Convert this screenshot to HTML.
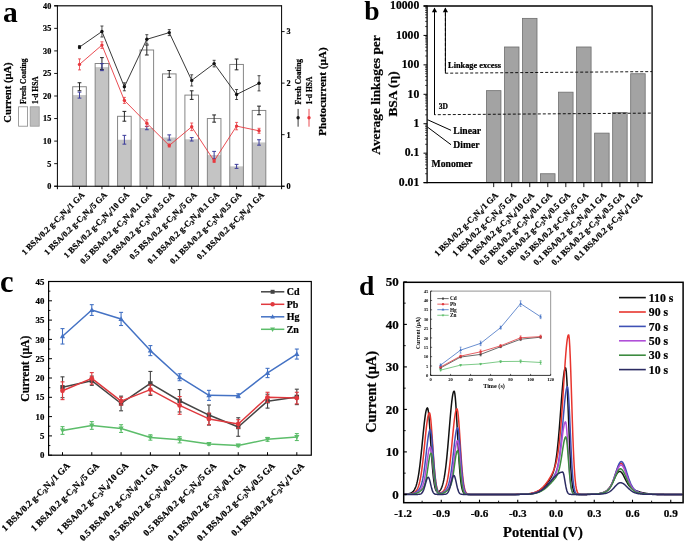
<!DOCTYPE html>
<html><head><meta charset="utf-8"><style>html,body{margin:0;padding:0;background:#fff;}svg{display:block;will-change:transform;} text{stroke:#000;stroke-width:0.22px;}</style></head>
<body><svg width="685" height="541" viewBox="0 0 685 541">
<rect width="685" height="541" fill="#fff"/>
<rect x="72.70" y="86.75" width="13.60" height="99.45" fill="#fff" stroke="none" stroke-width="0"/>
<rect x="72.70" y="95.10" width="13.60" height="91.10" fill="#c4c4c4" stroke="none" stroke-width="0"/>
<rect x="72.70" y="86.75" width="13.60" height="99.45" fill="none" stroke="#808080" stroke-width="0.95"/>
<rect x="95.14" y="63.53" width="13.60" height="122.67" fill="#fff" stroke="none" stroke-width="0"/>
<rect x="95.14" y="67.14" width="13.60" height="119.06" fill="#c4c4c4" stroke="none" stroke-width="0"/>
<rect x="95.14" y="63.53" width="13.60" height="122.67" fill="none" stroke="#808080" stroke-width="0.95"/>
<rect x="117.58" y="116.29" width="13.60" height="69.91" fill="#fff" stroke="none" stroke-width="0"/>
<rect x="117.58" y="139.75" width="13.60" height="46.45" fill="#c4c4c4" stroke="none" stroke-width="0"/>
<rect x="117.58" y="116.29" width="13.60" height="69.91" fill="none" stroke="#808080" stroke-width="0.95"/>
<rect x="140.02" y="50.00" width="13.60" height="136.20" fill="#fff" stroke="none" stroke-width="0"/>
<rect x="140.02" y="128.02" width="13.60" height="58.18" fill="#c4c4c4" stroke="none" stroke-width="0"/>
<rect x="140.02" y="50.00" width="13.60" height="136.20" fill="none" stroke="#808080" stroke-width="0.95"/>
<rect x="162.46" y="73.90" width="13.60" height="112.30" fill="#fff" stroke="none" stroke-width="0"/>
<rect x="162.46" y="137.49" width="13.60" height="48.71" fill="#c4c4c4" stroke="none" stroke-width="0"/>
<rect x="162.46" y="73.90" width="13.60" height="112.30" fill="none" stroke="#808080" stroke-width="0.95"/>
<rect x="184.90" y="95.10" width="13.60" height="91.10" fill="#fff" stroke="none" stroke-width="0"/>
<rect x="184.90" y="139.30" width="13.60" height="46.90" fill="#c4c4c4" stroke="none" stroke-width="0"/>
<rect x="184.90" y="95.10" width="13.60" height="91.10" fill="none" stroke="#808080" stroke-width="0.95"/>
<rect x="207.34" y="118.55" width="13.60" height="67.65" fill="#fff" stroke="none" stroke-width="0"/>
<rect x="207.34" y="155.08" width="13.60" height="31.12" fill="#c4c4c4" stroke="none" stroke-width="0"/>
<rect x="207.34" y="118.55" width="13.60" height="67.65" fill="none" stroke="#808080" stroke-width="0.95"/>
<rect x="229.78" y="64.43" width="13.60" height="121.77" fill="#fff" stroke="none" stroke-width="0"/>
<rect x="229.78" y="166.36" width="13.60" height="19.84" fill="#c4c4c4" stroke="none" stroke-width="0"/>
<rect x="229.78" y="64.43" width="13.60" height="121.77" fill="none" stroke="#808080" stroke-width="0.95"/>
<rect x="252.22" y="110.43" width="13.60" height="75.77" fill="#fff" stroke="none" stroke-width="0"/>
<rect x="252.22" y="142.45" width="13.60" height="43.75" fill="#c4c4c4" stroke="none" stroke-width="0"/>
<rect x="252.22" y="110.43" width="13.60" height="75.77" fill="none" stroke="#808080" stroke-width="0.95"/>
<line x1="79.50" y1="82.75" x2="79.50" y2="90.75" stroke="#222" stroke-width="1.0" />
<line x1="77.60" y1="82.75" x2="81.40" y2="82.75" stroke="#222" stroke-width="1.0" />
<line x1="77.60" y1="90.75" x2="81.40" y2="90.75" stroke="#222" stroke-width="1.0" />
<line x1="79.50" y1="92.10" x2="79.50" y2="98.10" stroke="#3a3a9a" stroke-width="1.0" />
<line x1="77.60" y1="92.10" x2="81.40" y2="92.10" stroke="#3a3a9a" stroke-width="1.0" />
<line x1="77.60" y1="98.10" x2="81.40" y2="98.10" stroke="#3a3a9a" stroke-width="1.0" />
<line x1="101.94" y1="57.63" x2="101.94" y2="69.43" stroke="#222" stroke-width="1.0" />
<line x1="100.04" y1="57.63" x2="103.84" y2="57.63" stroke="#222" stroke-width="1.0" />
<line x1="100.04" y1="69.43" x2="103.84" y2="69.43" stroke="#222" stroke-width="1.0" />
<line x1="101.94" y1="63.64" x2="101.94" y2="70.64" stroke="#3a3a9a" stroke-width="1.0" />
<line x1="100.04" y1="63.64" x2="103.84" y2="63.64" stroke="#3a3a9a" stroke-width="1.0" />
<line x1="100.04" y1="70.64" x2="103.84" y2="70.64" stroke="#3a3a9a" stroke-width="1.0" />
<line x1="124.38" y1="111.39" x2="124.38" y2="121.19" stroke="#222" stroke-width="1.0" />
<line x1="122.48" y1="111.39" x2="126.28" y2="111.39" stroke="#222" stroke-width="1.0" />
<line x1="122.48" y1="121.19" x2="126.28" y2="121.19" stroke="#222" stroke-width="1.0" />
<line x1="124.38" y1="135.35" x2="124.38" y2="144.15" stroke="#3a3a9a" stroke-width="1.0" />
<line x1="122.48" y1="135.35" x2="126.28" y2="135.35" stroke="#3a3a9a" stroke-width="1.0" />
<line x1="122.48" y1="144.15" x2="126.28" y2="144.15" stroke="#3a3a9a" stroke-width="1.0" />
<line x1="146.82" y1="45.00" x2="146.82" y2="55.00" stroke="#222" stroke-width="1.0" />
<line x1="144.92" y1="45.00" x2="148.72" y2="45.00" stroke="#222" stroke-width="1.0" />
<line x1="144.92" y1="55.00" x2="148.72" y2="55.00" stroke="#222" stroke-width="1.0" />
<line x1="146.82" y1="126.32" x2="146.82" y2="129.72" stroke="#3a3a9a" stroke-width="1.0" />
<line x1="144.92" y1="126.32" x2="148.72" y2="126.32" stroke="#3a3a9a" stroke-width="1.0" />
<line x1="144.92" y1="129.72" x2="148.72" y2="129.72" stroke="#3a3a9a" stroke-width="1.0" />
<line x1="169.26" y1="70.50" x2="169.26" y2="77.30" stroke="#222" stroke-width="1.0" />
<line x1="167.36" y1="70.50" x2="171.16" y2="70.50" stroke="#222" stroke-width="1.0" />
<line x1="167.36" y1="77.30" x2="171.16" y2="77.30" stroke="#222" stroke-width="1.0" />
<line x1="169.26" y1="134.89" x2="169.26" y2="140.09" stroke="#3a3a9a" stroke-width="1.0" />
<line x1="167.36" y1="134.89" x2="171.16" y2="134.89" stroke="#3a3a9a" stroke-width="1.0" />
<line x1="167.36" y1="140.09" x2="171.16" y2="140.09" stroke="#3a3a9a" stroke-width="1.0" />
<line x1="191.70" y1="90.80" x2="191.70" y2="99.40" stroke="#222" stroke-width="1.0" />
<line x1="189.80" y1="90.80" x2="193.60" y2="90.80" stroke="#222" stroke-width="1.0" />
<line x1="189.80" y1="99.40" x2="193.60" y2="99.40" stroke="#222" stroke-width="1.0" />
<line x1="191.70" y1="137.60" x2="191.70" y2="141.00" stroke="#3a3a9a" stroke-width="1.0" />
<line x1="189.80" y1="137.60" x2="193.60" y2="137.60" stroke="#3a3a9a" stroke-width="1.0" />
<line x1="189.80" y1="141.00" x2="193.60" y2="141.00" stroke="#3a3a9a" stroke-width="1.0" />
<line x1="214.14" y1="114.95" x2="214.14" y2="122.15" stroke="#222" stroke-width="1.0" />
<line x1="212.24" y1="114.95" x2="216.04" y2="114.95" stroke="#222" stroke-width="1.0" />
<line x1="212.24" y1="122.15" x2="216.04" y2="122.15" stroke="#222" stroke-width="1.0" />
<line x1="214.14" y1="151.38" x2="214.14" y2="158.78" stroke="#3a3a9a" stroke-width="1.0" />
<line x1="212.24" y1="151.38" x2="216.04" y2="151.38" stroke="#3a3a9a" stroke-width="1.0" />
<line x1="212.24" y1="158.78" x2="216.04" y2="158.78" stroke="#3a3a9a" stroke-width="1.0" />
<line x1="236.58" y1="59.03" x2="236.58" y2="69.83" stroke="#222" stroke-width="1.0" />
<line x1="234.68" y1="59.03" x2="238.48" y2="59.03" stroke="#222" stroke-width="1.0" />
<line x1="234.68" y1="69.83" x2="238.48" y2="69.83" stroke="#222" stroke-width="1.0" />
<line x1="236.58" y1="164.36" x2="236.58" y2="168.36" stroke="#3a3a9a" stroke-width="1.0" />
<line x1="234.68" y1="164.36" x2="238.48" y2="164.36" stroke="#3a3a9a" stroke-width="1.0" />
<line x1="234.68" y1="168.36" x2="238.48" y2="168.36" stroke="#3a3a9a" stroke-width="1.0" />
<line x1="259.02" y1="106.13" x2="259.02" y2="114.73" stroke="#222" stroke-width="1.0" />
<line x1="257.12" y1="106.13" x2="260.92" y2="106.13" stroke="#222" stroke-width="1.0" />
<line x1="257.12" y1="114.73" x2="260.92" y2="114.73" stroke="#222" stroke-width="1.0" />
<line x1="259.02" y1="139.75" x2="259.02" y2="145.15" stroke="#3a3a9a" stroke-width="1.0" />
<line x1="257.12" y1="139.75" x2="260.92" y2="139.75" stroke="#3a3a9a" stroke-width="1.0" />
<line x1="257.12" y1="145.15" x2="260.92" y2="145.15" stroke="#3a3a9a" stroke-width="1.0" />
<polyline points="79.50,47.10 101.94,31.50 124.38,86.80 146.82,39.30 169.26,32.60 191.70,80.40 214.14,63.60 236.58,94.50 259.02,83.30" fill="none" stroke="#222" stroke-width="0.9" stroke-linejoin="round" />
<polyline points="79.50,64.40 101.94,45.10 124.38,100.40 146.82,123.20 169.26,145.50 191.70,126.80 214.14,160.90 236.58,126.10 259.02,130.80" fill="none" stroke="#e8393f" stroke-width="0.9" stroke-linejoin="round" />
<line x1="79.50" y1="45.60" x2="79.50" y2="48.60" stroke="#222" stroke-width="0.8" />
<line x1="78.00" y1="45.60" x2="81.00" y2="45.60" stroke="#222" stroke-width="0.8" />
<line x1="78.00" y1="48.60" x2="81.00" y2="48.60" stroke="#222" stroke-width="0.8" />
<line x1="79.50" y1="58.90" x2="79.50" y2="69.90" stroke="#e8393f" stroke-width="0.8" />
<line x1="78.00" y1="58.90" x2="81.00" y2="58.90" stroke="#e8393f" stroke-width="0.8" />
<line x1="78.00" y1="69.90" x2="81.00" y2="69.90" stroke="#e8393f" stroke-width="0.8" />
<circle cx="79.50" cy="47.10" r="1.7" fill="#111"/>
<circle cx="79.50" cy="64.40" r="1.7" fill="#e8393f"/>
<line x1="101.94" y1="26.00" x2="101.94" y2="37.00" stroke="#222" stroke-width="0.8" />
<line x1="100.44" y1="26.00" x2="103.44" y2="26.00" stroke="#222" stroke-width="0.8" />
<line x1="100.44" y1="37.00" x2="103.44" y2="37.00" stroke="#222" stroke-width="0.8" />
<line x1="101.94" y1="41.80" x2="101.94" y2="48.40" stroke="#e8393f" stroke-width="0.8" />
<line x1="100.44" y1="41.80" x2="103.44" y2="41.80" stroke="#e8393f" stroke-width="0.8" />
<line x1="100.44" y1="48.40" x2="103.44" y2="48.40" stroke="#e8393f" stroke-width="0.8" />
<circle cx="101.94" cy="31.50" r="1.7" fill="#111"/>
<circle cx="101.94" cy="45.10" r="1.7" fill="#e8393f"/>
<line x1="124.38" y1="82.80" x2="124.38" y2="90.80" stroke="#222" stroke-width="0.8" />
<line x1="122.88" y1="82.80" x2="125.88" y2="82.80" stroke="#222" stroke-width="0.8" />
<line x1="122.88" y1="90.80" x2="125.88" y2="90.80" stroke="#222" stroke-width="0.8" />
<line x1="124.38" y1="97.40" x2="124.38" y2="103.40" stroke="#e8393f" stroke-width="0.8" />
<line x1="122.88" y1="97.40" x2="125.88" y2="97.40" stroke="#e8393f" stroke-width="0.8" />
<line x1="122.88" y1="103.40" x2="125.88" y2="103.40" stroke="#e8393f" stroke-width="0.8" />
<circle cx="124.38" cy="86.80" r="1.7" fill="#111"/>
<circle cx="124.38" cy="100.40" r="1.7" fill="#e8393f"/>
<line x1="146.82" y1="34.70" x2="146.82" y2="43.90" stroke="#222" stroke-width="0.8" />
<line x1="145.32" y1="34.70" x2="148.32" y2="34.70" stroke="#222" stroke-width="0.8" />
<line x1="145.32" y1="43.90" x2="148.32" y2="43.90" stroke="#222" stroke-width="0.8" />
<line x1="146.82" y1="119.80" x2="146.82" y2="126.60" stroke="#e8393f" stroke-width="0.8" />
<line x1="145.32" y1="119.80" x2="148.32" y2="119.80" stroke="#e8393f" stroke-width="0.8" />
<line x1="145.32" y1="126.60" x2="148.32" y2="126.60" stroke="#e8393f" stroke-width="0.8" />
<circle cx="146.82" cy="39.30" r="1.7" fill="#111"/>
<circle cx="146.82" cy="123.20" r="1.7" fill="#e8393f"/>
<line x1="169.26" y1="29.60" x2="169.26" y2="35.60" stroke="#222" stroke-width="0.8" />
<line x1="167.76" y1="29.60" x2="170.76" y2="29.60" stroke="#222" stroke-width="0.8" />
<line x1="167.76" y1="35.60" x2="170.76" y2="35.60" stroke="#222" stroke-width="0.8" />
<line x1="169.26" y1="144.00" x2="169.26" y2="147.00" stroke="#e8393f" stroke-width="0.8" />
<line x1="167.76" y1="144.00" x2="170.76" y2="144.00" stroke="#e8393f" stroke-width="0.8" />
<line x1="167.76" y1="147.00" x2="170.76" y2="147.00" stroke="#e8393f" stroke-width="0.8" />
<circle cx="169.26" cy="32.60" r="1.7" fill="#111"/>
<circle cx="169.26" cy="145.50" r="1.7" fill="#e8393f"/>
<line x1="191.70" y1="74.80" x2="191.70" y2="86.00" stroke="#222" stroke-width="0.8" />
<line x1="190.20" y1="74.80" x2="193.20" y2="74.80" stroke="#222" stroke-width="0.8" />
<line x1="190.20" y1="86.00" x2="193.20" y2="86.00" stroke="#222" stroke-width="0.8" />
<line x1="191.70" y1="123.00" x2="191.70" y2="130.60" stroke="#e8393f" stroke-width="0.8" />
<line x1="190.20" y1="123.00" x2="193.20" y2="123.00" stroke="#e8393f" stroke-width="0.8" />
<line x1="190.20" y1="130.60" x2="193.20" y2="130.60" stroke="#e8393f" stroke-width="0.8" />
<circle cx="191.70" cy="80.40" r="1.7" fill="#111"/>
<circle cx="191.70" cy="126.80" r="1.7" fill="#e8393f"/>
<line x1="214.14" y1="60.30" x2="214.14" y2="66.90" stroke="#222" stroke-width="0.8" />
<line x1="212.64" y1="60.30" x2="215.64" y2="60.30" stroke="#222" stroke-width="0.8" />
<line x1="212.64" y1="66.90" x2="215.64" y2="66.90" stroke="#222" stroke-width="0.8" />
<line x1="214.14" y1="159.40" x2="214.14" y2="162.40" stroke="#e8393f" stroke-width="0.8" />
<line x1="212.64" y1="159.40" x2="215.64" y2="159.40" stroke="#e8393f" stroke-width="0.8" />
<line x1="212.64" y1="162.40" x2="215.64" y2="162.40" stroke="#e8393f" stroke-width="0.8" />
<circle cx="214.14" cy="63.60" r="1.7" fill="#111"/>
<circle cx="214.14" cy="160.90" r="1.7" fill="#e8393f"/>
<line x1="236.58" y1="89.50" x2="236.58" y2="99.50" stroke="#222" stroke-width="0.8" />
<line x1="235.08" y1="89.50" x2="238.08" y2="89.50" stroke="#222" stroke-width="0.8" />
<line x1="235.08" y1="99.50" x2="238.08" y2="99.50" stroke="#222" stroke-width="0.8" />
<line x1="236.58" y1="122.40" x2="236.58" y2="129.80" stroke="#e8393f" stroke-width="0.8" />
<line x1="235.08" y1="122.40" x2="238.08" y2="122.40" stroke="#e8393f" stroke-width="0.8" />
<line x1="235.08" y1="129.80" x2="238.08" y2="129.80" stroke="#e8393f" stroke-width="0.8" />
<circle cx="236.58" cy="94.50" r="1.7" fill="#111"/>
<circle cx="236.58" cy="126.10" r="1.7" fill="#e8393f"/>
<line x1="259.02" y1="75.70" x2="259.02" y2="90.90" stroke="#222" stroke-width="0.8" />
<line x1="257.52" y1="75.70" x2="260.52" y2="75.70" stroke="#222" stroke-width="0.8" />
<line x1="257.52" y1="90.90" x2="260.52" y2="90.90" stroke="#222" stroke-width="0.8" />
<line x1="259.02" y1="128.30" x2="259.02" y2="133.30" stroke="#e8393f" stroke-width="0.8" />
<line x1="257.52" y1="128.30" x2="260.52" y2="128.30" stroke="#e8393f" stroke-width="0.8" />
<line x1="257.52" y1="133.30" x2="260.52" y2="133.30" stroke="#e8393f" stroke-width="0.8" />
<circle cx="259.02" cy="83.30" r="1.7" fill="#111"/>
<circle cx="259.02" cy="130.80" r="1.7" fill="#e8393f"/>
<line x1="54.20" y1="5.80" x2="281.60" y2="5.80" stroke="#3a3a3a" stroke-width="1.4" />
<line x1="57.40" y1="5.20" x2="57.40" y2="189.20" stroke="#000" stroke-width="1" />
<line x1="281.60" y1="5.20" x2="281.60" y2="189.20" stroke="#000" stroke-width="1" />
<line x1="54.20" y1="186.20" x2="284.60" y2="186.20" stroke="#000" stroke-width="1.1" />
<line x1="54.20" y1="186.20" x2="57.40" y2="186.20" stroke="#000" stroke-width="0.9" />
<text x="51.30" y="189.10" font-size="8.2" text-anchor="end" font-family="Liberation Serif" font-weight="bold" fill="#000" >0</text>
<line x1="54.20" y1="163.65" x2="57.40" y2="163.65" stroke="#000" stroke-width="0.9" />
<text x="51.30" y="166.55" font-size="8.2" text-anchor="end" font-family="Liberation Serif" font-weight="bold" fill="#000" >5</text>
<line x1="54.20" y1="141.10" x2="57.40" y2="141.10" stroke="#000" stroke-width="0.9" />
<text x="51.30" y="144.00" font-size="8.2" text-anchor="end" font-family="Liberation Serif" font-weight="bold" fill="#000" >10</text>
<line x1="54.20" y1="118.55" x2="57.40" y2="118.55" stroke="#000" stroke-width="0.9" />
<text x="51.30" y="121.45" font-size="8.2" text-anchor="end" font-family="Liberation Serif" font-weight="bold" fill="#000" >15</text>
<line x1="54.20" y1="96.00" x2="57.40" y2="96.00" stroke="#000" stroke-width="0.9" />
<text x="51.30" y="98.90" font-size="8.2" text-anchor="end" font-family="Liberation Serif" font-weight="bold" fill="#000" >20</text>
<line x1="54.20" y1="73.45" x2="57.40" y2="73.45" stroke="#000" stroke-width="0.9" />
<text x="51.30" y="76.35" font-size="8.2" text-anchor="end" font-family="Liberation Serif" font-weight="bold" fill="#000" >25</text>
<line x1="54.20" y1="50.90" x2="57.40" y2="50.90" stroke="#000" stroke-width="0.9" />
<text x="51.30" y="53.80" font-size="8.2" text-anchor="end" font-family="Liberation Serif" font-weight="bold" fill="#000" >30</text>
<line x1="54.20" y1="28.35" x2="57.40" y2="28.35" stroke="#000" stroke-width="0.9" />
<text x="51.30" y="31.25" font-size="8.2" text-anchor="end" font-family="Liberation Serif" font-weight="bold" fill="#000" >35</text>
<line x1="54.20" y1="5.80" x2="57.40" y2="5.80" stroke="#000" stroke-width="0.9" />
<text x="51.30" y="8.70" font-size="8.2" text-anchor="end" font-family="Liberation Serif" font-weight="bold" fill="#000" >40</text>
<line x1="281.60" y1="186.20" x2="284.60" y2="186.20" stroke="#000" stroke-width="0.9" />
<text x="286.50" y="189.10" font-size="8.2" text-anchor="start" font-family="Liberation Serif" font-weight="bold" fill="#000" >0</text>
<line x1="281.60" y1="134.66" x2="284.60" y2="134.66" stroke="#000" stroke-width="0.9" />
<text x="286.50" y="137.56" font-size="8.2" text-anchor="start" font-family="Liberation Serif" font-weight="bold" fill="#000" >1</text>
<line x1="281.60" y1="83.11" x2="284.60" y2="83.11" stroke="#000" stroke-width="0.9" />
<text x="286.50" y="86.01" font-size="8.2" text-anchor="start" font-family="Liberation Serif" font-weight="bold" fill="#000" >2</text>
<line x1="281.60" y1="31.57" x2="284.60" y2="31.57" stroke="#000" stroke-width="0.9" />
<text x="286.50" y="34.47" font-size="8.2" text-anchor="start" font-family="Liberation Serif" font-weight="bold" fill="#000" >3</text>
<line x1="79.50" y1="186.20" x2="79.50" y2="189.20" stroke="#000" stroke-width="0.9" />
<line x1="101.94" y1="186.20" x2="101.94" y2="189.20" stroke="#000" stroke-width="0.9" />
<line x1="124.38" y1="186.20" x2="124.38" y2="189.20" stroke="#000" stroke-width="0.9" />
<line x1="146.82" y1="186.20" x2="146.82" y2="189.20" stroke="#000" stroke-width="0.9" />
<line x1="169.26" y1="186.20" x2="169.26" y2="189.20" stroke="#000" stroke-width="0.9" />
<line x1="191.70" y1="186.20" x2="191.70" y2="189.20" stroke="#000" stroke-width="0.9" />
<line x1="214.14" y1="186.20" x2="214.14" y2="189.20" stroke="#000" stroke-width="0.9" />
<line x1="236.58" y1="186.20" x2="236.58" y2="189.20" stroke="#000" stroke-width="0.9" />
<line x1="259.02" y1="186.20" x2="259.02" y2="189.20" stroke="#000" stroke-width="0.9" />
<text x="85.10" y="195.40" font-size="8.5" text-anchor="end" font-family="Liberation Serif" font-weight="bold" transform="rotate(-45 85.10 195.40)">1 BSA/0.2 g-C<tspan font-size="5.95" dy="1.87">3</tspan><tspan dy="-1.87">N</tspan><tspan font-size="5.95" dy="1.87">4</tspan><tspan dy="-1.87">/1 GA</tspan></text>
<text x="107.54" y="195.40" font-size="8.5" text-anchor="end" font-family="Liberation Serif" font-weight="bold" transform="rotate(-45 107.54 195.40)">1 BSA/0.2 g-C<tspan font-size="5.95" dy="1.87">3</tspan><tspan dy="-1.87">N</tspan><tspan font-size="5.95" dy="1.87">4</tspan><tspan dy="-1.87">/5 GA</tspan></text>
<text x="129.98" y="195.40" font-size="8.5" text-anchor="end" font-family="Liberation Serif" font-weight="bold" transform="rotate(-45 129.98 195.40)">1 BSA/0.2 g-C<tspan font-size="5.95" dy="1.87">3</tspan><tspan dy="-1.87">N</tspan><tspan font-size="5.95" dy="1.87">4</tspan><tspan dy="-1.87">/10 GA</tspan></text>
<text x="152.42" y="195.40" font-size="8.5" text-anchor="end" font-family="Liberation Serif" font-weight="bold" transform="rotate(-45 152.42 195.40)">0.5 BSA/0.2 g-C<tspan font-size="5.95" dy="1.87">3</tspan><tspan dy="-1.87">N</tspan><tspan font-size="5.95" dy="1.87">4</tspan><tspan dy="-1.87">/0.1 GA</tspan></text>
<text x="174.86" y="195.40" font-size="8.5" text-anchor="end" font-family="Liberation Serif" font-weight="bold" transform="rotate(-45 174.86 195.40)">0.5 BSA/0.2 g-C<tspan font-size="5.95" dy="1.87">3</tspan><tspan dy="-1.87">N</tspan><tspan font-size="5.95" dy="1.87">4</tspan><tspan dy="-1.87">/0.5 GA</tspan></text>
<text x="197.30" y="195.40" font-size="8.5" text-anchor="end" font-family="Liberation Serif" font-weight="bold" transform="rotate(-45 197.30 195.40)">0.5 BSA/0.2 g-C<tspan font-size="5.95" dy="1.87">3</tspan><tspan dy="-1.87">N</tspan><tspan font-size="5.95" dy="1.87">4</tspan><tspan dy="-1.87">/5 GA</tspan></text>
<text x="219.74" y="195.40" font-size="8.5" text-anchor="end" font-family="Liberation Serif" font-weight="bold" transform="rotate(-45 219.74 195.40)">0.1 BSA/0.2 g-C<tspan font-size="5.95" dy="1.87">3</tspan><tspan dy="-1.87">N</tspan><tspan font-size="5.95" dy="1.87">4</tspan><tspan dy="-1.87">/0.1 GA</tspan></text>
<text x="242.18" y="195.40" font-size="8.5" text-anchor="end" font-family="Liberation Serif" font-weight="bold" transform="rotate(-45 242.18 195.40)">0.1 BSA/0.2 g-C<tspan font-size="5.95" dy="1.87">3</tspan><tspan dy="-1.87">N</tspan><tspan font-size="5.95" dy="1.87">4</tspan><tspan dy="-1.87">/0.5 GA</tspan></text>
<text x="264.62" y="195.40" font-size="8.5" text-anchor="end" font-family="Liberation Serif" font-weight="bold" transform="rotate(-45 264.62 195.40)">0.1 BSA/0.2 g-C<tspan font-size="5.95" dy="1.87">3</tspan><tspan dy="-1.87">N</tspan><tspan font-size="5.95" dy="1.87">4</tspan><tspan dy="-1.87">/1 GA</tspan></text>
<text x="3.00" y="22.20" font-size="29.5" text-anchor="start" font-family="Liberation Serif" font-weight="bold" fill="#000" style="stroke:none">a</text>
<text x="0" y="0" font-size="10.6" text-anchor="middle" font-family="Liberation Serif" font-weight="bold" transform="translate(11.3 92.5) rotate(-90)">Current (μA)</text>
<text x="0" y="0" font-size="7.5" text-anchor="start" font-family="Liberation Serif" font-weight="bold" transform="translate(25.6 104) rotate(-90)">Fresh Coating</text>
<text x="0" y="0" font-size="7.5" text-anchor="start" font-family="Liberation Serif" font-weight="bold" transform="translate(37.8 104) rotate(-90)">1-d HSA</text>
<rect x="18.60" y="106.80" width="9.00" height="19.40" fill="#fff" stroke="#888" stroke-width="0.8"/>
<rect x="30.20" y="106.80" width="9.00" height="19.40" fill="#bdbdbd" stroke="#999" stroke-width="0.8"/>
<text x="0" y="0" font-size="11.2" text-anchor="middle" font-family="Liberation Serif" font-weight="bold" transform="translate(326.3 91.6) rotate(-90)">Photocurrent (μA)</text>
<text x="0" y="0" font-size="7.5" text-anchor="start" font-family="Liberation Serif" font-weight="bold" transform="translate(301.1 104.4) rotate(-90)">Fresh Coating</text>
<text x="0" y="0" font-size="7.5" text-anchor="start" font-family="Liberation Serif" font-weight="bold" transform="translate(312.3 104.4) rotate(-90)">1-d HSA</text>
<line x1="298.10" y1="108.90" x2="298.10" y2="126.70" stroke="#222" stroke-width="0.9" />
<circle cx="298.10" cy="117.80" r="1.7" fill="#111"/>
<line x1="309.00" y1="108.90" x2="309.00" y2="126.70" stroke="#e8393f" stroke-width="0.9" />
<circle cx="309.00" cy="117.80" r="1.7" fill="#e8393f"/>
<rect x="486.45" y="90.65" width="14.50" height="91.95" fill="#a3a3a3" stroke="#6e6e6e" stroke-width="0.8"/>
<rect x="504.48" y="46.99" width="14.50" height="135.61" fill="#a3a3a3" stroke="#6e6e6e" stroke-width="0.8"/>
<rect x="522.51" y="18.37" width="14.50" height="164.23" fill="#a3a3a3" stroke="#6e6e6e" stroke-width="0.8"/>
<rect x="540.54" y="173.74" width="14.50" height="8.86" fill="#a3a3a3" stroke="#6e6e6e" stroke-width="0.8"/>
<rect x="558.57" y="92.18" width="14.50" height="90.42" fill="#a3a3a3" stroke="#6e6e6e" stroke-width="0.8"/>
<rect x="576.60" y="46.99" width="14.50" height="135.61" fill="#a3a3a3" stroke="#6e6e6e" stroke-width="0.8"/>
<rect x="594.63" y="133.12" width="14.50" height="49.48" fill="#a3a3a3" stroke="#6e6e6e" stroke-width="0.8"/>
<rect x="612.66" y="112.44" width="14.50" height="70.16" fill="#a3a3a3" stroke="#6e6e6e" stroke-width="0.8"/>
<rect x="630.69" y="73.73" width="14.50" height="108.87" fill="#a3a3a3" stroke="#6e6e6e" stroke-width="0.8"/>
<polyline points="445.4,8 445.4,73.2 652,71.6" fill="none" stroke="#000" stroke-width="0.9" stroke-dasharray="3,2"/>
<polyline points="434.5,8 434.5,114.7 652,113.1" fill="none" stroke="#000" stroke-width="0.9" stroke-dasharray="3,2"/>
<line x1="434.50" y1="10.00" x2="434.50" y2="114.70" stroke="#000" stroke-width="1" />
<line x1="445.40" y1="10.00" x2="445.40" y2="73.20" stroke="#000" stroke-width="1" />
<path d="M434.5,7.4 L431.9,12.3 L437.1,12.3 Z" fill="#000"/>
<path d="M445.4,7.4 L442.8,12.3 L448,12.3 Z" fill="#000"/>
<text x="448.10" y="68.30" font-size="8.3" text-anchor="start" font-family="Liberation Serif" font-weight="bold" fill="#000" >Linkage excess</text>
<text x="438.80" y="109.00" font-size="7.5" text-anchor="start" font-family="Liberation Serif" font-weight="bold" fill="#000" >3D</text>
<line x1="427.50" y1="119.70" x2="451.00" y2="130.30" stroke="#000" stroke-width="1" />
<line x1="427.50" y1="127.10" x2="451.00" y2="144.70" stroke="#000" stroke-width="1" />
<text x="453.30" y="134.00" font-size="9.6" text-anchor="start" font-family="Liberation Serif" font-weight="bold" fill="#000" >Linear</text>
<text x="453.30" y="147.50" font-size="9.6" text-anchor="start" font-family="Liberation Serif" font-weight="bold" fill="#000" >Dimer</text>
<text x="431.50" y="167.20" font-size="9.7" text-anchor="start" font-family="Liberation Serif" font-weight="bold" fill="#000" >Monomer</text>
<line x1="423.60" y1="6.00" x2="652.10" y2="6.00" stroke="#000" stroke-width="1.3" />
<line x1="427.10" y1="5.40" x2="427.10" y2="183.20" stroke="#000" stroke-width="1.3" />
<line x1="652.10" y1="5.40" x2="652.10" y2="183.20" stroke="#000" stroke-width="1.3" />
<line x1="423.60" y1="182.60" x2="652.70" y2="182.60" stroke="#000" stroke-width="1.3" />
<line x1="423.50" y1="182.60" x2="427.10" y2="182.60" stroke="#000" stroke-width="1" />
<text x="419.30" y="185.80" font-size="11.7" text-anchor="end" font-family="Liberation Serif" font-weight="bold" fill="#000" >0.01</text>
<line x1="425.10" y1="173.74" x2="427.10" y2="173.74" stroke="#000" stroke-width="0.7" />
<line x1="425.10" y1="168.56" x2="427.10" y2="168.56" stroke="#000" stroke-width="0.7" />
<line x1="425.10" y1="164.88" x2="427.10" y2="164.88" stroke="#000" stroke-width="0.7" />
<line x1="425.10" y1="162.03" x2="427.10" y2="162.03" stroke="#000" stroke-width="0.7" />
<line x1="425.10" y1="159.70" x2="427.10" y2="159.70" stroke="#000" stroke-width="0.7" />
<line x1="425.10" y1="157.73" x2="427.10" y2="157.73" stroke="#000" stroke-width="0.7" />
<line x1="425.10" y1="156.02" x2="427.10" y2="156.02" stroke="#000" stroke-width="0.7" />
<line x1="425.10" y1="154.51" x2="427.10" y2="154.51" stroke="#000" stroke-width="0.7" />
<line x1="423.50" y1="153.17" x2="427.10" y2="153.17" stroke="#000" stroke-width="1" />
<text x="419.30" y="156.37" font-size="11.7" text-anchor="end" font-family="Liberation Serif" font-weight="bold" fill="#000" >0.1</text>
<line x1="425.10" y1="144.31" x2="427.10" y2="144.31" stroke="#000" stroke-width="0.7" />
<line x1="425.10" y1="139.12" x2="427.10" y2="139.12" stroke="#000" stroke-width="0.7" />
<line x1="425.10" y1="135.45" x2="427.10" y2="135.45" stroke="#000" stroke-width="0.7" />
<line x1="425.10" y1="132.59" x2="427.10" y2="132.59" stroke="#000" stroke-width="0.7" />
<line x1="425.10" y1="130.26" x2="427.10" y2="130.26" stroke="#000" stroke-width="0.7" />
<line x1="425.10" y1="128.29" x2="427.10" y2="128.29" stroke="#000" stroke-width="0.7" />
<line x1="425.10" y1="126.59" x2="427.10" y2="126.59" stroke="#000" stroke-width="0.7" />
<line x1="425.10" y1="125.08" x2="427.10" y2="125.08" stroke="#000" stroke-width="0.7" />
<line x1="423.50" y1="123.73" x2="427.10" y2="123.73" stroke="#000" stroke-width="1" />
<text x="419.30" y="126.93" font-size="11.7" text-anchor="end" font-family="Liberation Serif" font-weight="bold" fill="#000" >1</text>
<line x1="425.10" y1="114.87" x2="427.10" y2="114.87" stroke="#000" stroke-width="0.7" />
<line x1="425.10" y1="109.69" x2="427.10" y2="109.69" stroke="#000" stroke-width="0.7" />
<line x1="425.10" y1="106.01" x2="427.10" y2="106.01" stroke="#000" stroke-width="0.7" />
<line x1="425.10" y1="103.16" x2="427.10" y2="103.16" stroke="#000" stroke-width="0.7" />
<line x1="425.10" y1="100.83" x2="427.10" y2="100.83" stroke="#000" stroke-width="0.7" />
<line x1="425.10" y1="98.86" x2="427.10" y2="98.86" stroke="#000" stroke-width="0.7" />
<line x1="425.10" y1="97.15" x2="427.10" y2="97.15" stroke="#000" stroke-width="0.7" />
<line x1="425.10" y1="95.65" x2="427.10" y2="95.65" stroke="#000" stroke-width="0.7" />
<line x1="423.50" y1="94.30" x2="427.10" y2="94.30" stroke="#000" stroke-width="1" />
<text x="419.30" y="97.50" font-size="11.7" text-anchor="end" font-family="Liberation Serif" font-weight="bold" fill="#000" >10</text>
<line x1="425.10" y1="85.44" x2="427.10" y2="85.44" stroke="#000" stroke-width="0.7" />
<line x1="425.10" y1="80.26" x2="427.10" y2="80.26" stroke="#000" stroke-width="0.7" />
<line x1="425.10" y1="76.58" x2="427.10" y2="76.58" stroke="#000" stroke-width="0.7" />
<line x1="425.10" y1="73.73" x2="427.10" y2="73.73" stroke="#000" stroke-width="0.7" />
<line x1="425.10" y1="71.40" x2="427.10" y2="71.40" stroke="#000" stroke-width="0.7" />
<line x1="425.10" y1="69.43" x2="427.10" y2="69.43" stroke="#000" stroke-width="0.7" />
<line x1="425.10" y1="67.72" x2="427.10" y2="67.72" stroke="#000" stroke-width="0.7" />
<line x1="425.10" y1="66.21" x2="427.10" y2="66.21" stroke="#000" stroke-width="0.7" />
<line x1="423.50" y1="64.87" x2="427.10" y2="64.87" stroke="#000" stroke-width="1" />
<text x="419.30" y="68.07" font-size="11.7" text-anchor="end" font-family="Liberation Serif" font-weight="bold" fill="#000" >100</text>
<line x1="425.10" y1="56.01" x2="427.10" y2="56.01" stroke="#000" stroke-width="0.7" />
<line x1="425.10" y1="50.82" x2="427.10" y2="50.82" stroke="#000" stroke-width="0.7" />
<line x1="425.10" y1="47.15" x2="427.10" y2="47.15" stroke="#000" stroke-width="0.7" />
<line x1="425.10" y1="44.29" x2="427.10" y2="44.29" stroke="#000" stroke-width="0.7" />
<line x1="425.10" y1="41.96" x2="427.10" y2="41.96" stroke="#000" stroke-width="0.7" />
<line x1="425.10" y1="39.99" x2="427.10" y2="39.99" stroke="#000" stroke-width="0.7" />
<line x1="425.10" y1="38.29" x2="427.10" y2="38.29" stroke="#000" stroke-width="0.7" />
<line x1="425.10" y1="36.78" x2="427.10" y2="36.78" stroke="#000" stroke-width="0.7" />
<line x1="423.50" y1="35.43" x2="427.10" y2="35.43" stroke="#000" stroke-width="1" />
<text x="419.30" y="38.63" font-size="11.7" text-anchor="end" font-family="Liberation Serif" font-weight="bold" fill="#000" >1000</text>
<line x1="425.10" y1="26.57" x2="427.10" y2="26.57" stroke="#000" stroke-width="0.7" />
<line x1="425.10" y1="21.39" x2="427.10" y2="21.39" stroke="#000" stroke-width="0.7" />
<line x1="425.10" y1="17.71" x2="427.10" y2="17.71" stroke="#000" stroke-width="0.7" />
<line x1="425.10" y1="14.86" x2="427.10" y2="14.86" stroke="#000" stroke-width="0.7" />
<line x1="425.10" y1="12.53" x2="427.10" y2="12.53" stroke="#000" stroke-width="0.7" />
<line x1="425.10" y1="10.56" x2="427.10" y2="10.56" stroke="#000" stroke-width="0.7" />
<line x1="425.10" y1="8.85" x2="427.10" y2="8.85" stroke="#000" stroke-width="0.7" />
<line x1="425.10" y1="7.35" x2="427.10" y2="7.35" stroke="#000" stroke-width="0.7" />
<line x1="423.50" y1="6.00" x2="427.10" y2="6.00" stroke="#000" stroke-width="1" />
<text x="419.30" y="9.20" font-size="11.7" text-anchor="end" font-family="Liberation Serif" font-weight="bold" fill="#000" >10000</text>
<line x1="493.70" y1="182.60" x2="493.70" y2="187.10" stroke="#000" stroke-width="0.9" />
<line x1="511.73" y1="182.60" x2="511.73" y2="187.10" stroke="#000" stroke-width="0.9" />
<line x1="529.76" y1="182.60" x2="529.76" y2="187.10" stroke="#000" stroke-width="0.9" />
<line x1="547.79" y1="182.60" x2="547.79" y2="187.10" stroke="#000" stroke-width="0.9" />
<line x1="565.82" y1="182.60" x2="565.82" y2="187.10" stroke="#000" stroke-width="0.9" />
<line x1="583.85" y1="182.60" x2="583.85" y2="187.10" stroke="#000" stroke-width="0.9" />
<line x1="601.88" y1="182.60" x2="601.88" y2="187.10" stroke="#000" stroke-width="0.9" />
<line x1="619.91" y1="182.60" x2="619.91" y2="187.10" stroke="#000" stroke-width="0.9" />
<line x1="637.94" y1="182.60" x2="637.94" y2="187.10" stroke="#000" stroke-width="0.9" />
<text x="498.70" y="195.80" font-size="8.65" text-anchor="end" font-family="Liberation Serif" font-weight="bold" transform="rotate(-45 498.70 195.80)">1 BSA/0.2 g-C<tspan font-size="6.05" dy="1.90">3</tspan><tspan dy="-1.90">N</tspan><tspan font-size="6.05" dy="1.90">4</tspan><tspan dy="-1.90">/1 GA</tspan></text>
<text x="516.73" y="195.80" font-size="8.65" text-anchor="end" font-family="Liberation Serif" font-weight="bold" transform="rotate(-45 516.73 195.80)">1 BSA/0.2 g-C<tspan font-size="6.05" dy="1.90">3</tspan><tspan dy="-1.90">N</tspan><tspan font-size="6.05" dy="1.90">4</tspan><tspan dy="-1.90">/5 GA</tspan></text>
<text x="534.76" y="195.80" font-size="8.65" text-anchor="end" font-family="Liberation Serif" font-weight="bold" transform="rotate(-45 534.76 195.80)">1 BSA/0.2 g-C<tspan font-size="6.05" dy="1.90">3</tspan><tspan dy="-1.90">N</tspan><tspan font-size="6.05" dy="1.90">4</tspan><tspan dy="-1.90">/10 GA</tspan></text>
<text x="552.79" y="195.80" font-size="8.65" text-anchor="end" font-family="Liberation Serif" font-weight="bold" transform="rotate(-45 552.79 195.80)">0.5 BSA/0.2 g-C<tspan font-size="6.05" dy="1.90">3</tspan><tspan dy="-1.90">N</tspan><tspan font-size="6.05" dy="1.90">4</tspan><tspan dy="-1.90">/0.1 GA</tspan></text>
<text x="570.82" y="195.80" font-size="8.65" text-anchor="end" font-family="Liberation Serif" font-weight="bold" transform="rotate(-45 570.82 195.80)">0.5 BSA/0.2 g-C<tspan font-size="6.05" dy="1.90">3</tspan><tspan dy="-1.90">N</tspan><tspan font-size="6.05" dy="1.90">4</tspan><tspan dy="-1.90">/0.5 GA</tspan></text>
<text x="588.85" y="195.80" font-size="8.65" text-anchor="end" font-family="Liberation Serif" font-weight="bold" transform="rotate(-45 588.85 195.80)">0.5 BSA/0.2 g-C<tspan font-size="6.05" dy="1.90">3</tspan><tspan dy="-1.90">N</tspan><tspan font-size="6.05" dy="1.90">4</tspan><tspan dy="-1.90">/5 GA</tspan></text>
<text x="606.88" y="195.80" font-size="8.65" text-anchor="end" font-family="Liberation Serif" font-weight="bold" transform="rotate(-45 606.88 195.80)">0.1 BSA/0.2 g-C<tspan font-size="6.05" dy="1.90">3</tspan><tspan dy="-1.90">N</tspan><tspan font-size="6.05" dy="1.90">4</tspan><tspan dy="-1.90">/0.1 GA</tspan></text>
<text x="624.91" y="195.80" font-size="8.65" text-anchor="end" font-family="Liberation Serif" font-weight="bold" transform="rotate(-45 624.91 195.80)">0.1 BSA/0.2 g-C<tspan font-size="6.05" dy="1.90">3</tspan><tspan dy="-1.90">N</tspan><tspan font-size="6.05" dy="1.90">4</tspan><tspan dy="-1.90">/0.5 GA</tspan></text>
<text x="642.94" y="195.80" font-size="8.65" text-anchor="end" font-family="Liberation Serif" font-weight="bold" transform="rotate(-45 642.94 195.80)">0.1 BSA/0.2 g-C<tspan font-size="6.05" dy="1.90">3</tspan><tspan dy="-1.90">N</tspan><tspan font-size="6.05" dy="1.90">4</tspan><tspan dy="-1.90">/1 GA</tspan></text>
<text x="364.20" y="20.00" font-size="27.6" text-anchor="start" font-family="Liberation Serif" font-weight="bold" fill="#000" style="stroke:none">b</text>
<text x="0" y="0" font-size="13.4" text-anchor="middle" font-family="Liberation Serif" font-weight="bold" transform="translate(379.5 95) rotate(-90)">Average linkages per</text>
<text x="0" y="0" font-size="13.4" text-anchor="middle" font-family="Liberation Serif" font-weight="bold" transform="translate(396.6 94) rotate(-90)">BSA (η)</text>
<polyline points="62.50,387.26 91.79,380.70 121.08,403.48 150.37,383.40 179.66,400.77 208.95,415.06 238.24,427.02 267.53,401.16 296.82,396.91" fill="none" stroke="#444444" stroke-width="1.5" stroke-linejoin="round" />
<line x1="62.50" y1="376.84" x2="62.50" y2="397.69" stroke="#444444" stroke-width="1.1" />
<line x1="60.50" y1="376.84" x2="64.50" y2="376.84" stroke="#444444" stroke-width="1.1" />
<line x1="60.50" y1="397.69" x2="64.50" y2="397.69" stroke="#444444" stroke-width="1.1" />
<rect x="60.30" y="385.06" width="4.40" height="4.40" fill="#444444" stroke="none" stroke-width="0"/>
<line x1="91.79" y1="376.07" x2="91.79" y2="385.33" stroke="#444444" stroke-width="1.1" />
<line x1="89.79" y1="376.07" x2="93.79" y2="376.07" stroke="#444444" stroke-width="1.1" />
<line x1="89.79" y1="385.33" x2="93.79" y2="385.33" stroke="#444444" stroke-width="1.1" />
<rect x="89.59" y="378.50" width="4.40" height="4.40" fill="#444444" stroke="none" stroke-width="0"/>
<line x1="121.08" y1="396.14" x2="121.08" y2="410.81" stroke="#444444" stroke-width="1.1" />
<line x1="119.08" y1="396.14" x2="123.08" y2="396.14" stroke="#444444" stroke-width="1.1" />
<line x1="119.08" y1="410.81" x2="123.08" y2="410.81" stroke="#444444" stroke-width="1.1" />
<rect x="118.88" y="401.28" width="4.40" height="4.40" fill="#444444" stroke="none" stroke-width="0"/>
<line x1="150.37" y1="371.44" x2="150.37" y2="395.37" stroke="#444444" stroke-width="1.1" />
<line x1="148.37" y1="371.44" x2="152.37" y2="371.44" stroke="#444444" stroke-width="1.1" />
<line x1="148.37" y1="395.37" x2="152.37" y2="395.37" stroke="#444444" stroke-width="1.1" />
<rect x="148.17" y="381.20" width="4.40" height="4.40" fill="#444444" stroke="none" stroke-width="0"/>
<line x1="179.66" y1="389.58" x2="179.66" y2="411.97" stroke="#444444" stroke-width="1.1" />
<line x1="177.66" y1="389.58" x2="181.66" y2="389.58" stroke="#444444" stroke-width="1.1" />
<line x1="177.66" y1="411.97" x2="181.66" y2="411.97" stroke="#444444" stroke-width="1.1" />
<rect x="177.46" y="398.57" width="4.40" height="4.40" fill="#444444" stroke="none" stroke-width="0"/>
<line x1="208.95" y1="405.02" x2="208.95" y2="425.09" stroke="#444444" stroke-width="1.1" />
<line x1="206.95" y1="405.02" x2="210.95" y2="405.02" stroke="#444444" stroke-width="1.1" />
<line x1="206.95" y1="425.09" x2="210.95" y2="425.09" stroke="#444444" stroke-width="1.1" />
<rect x="206.75" y="412.86" width="4.40" height="4.40" fill="#444444" stroke="none" stroke-width="0"/>
<line x1="238.24" y1="417.76" x2="238.24" y2="436.29" stroke="#444444" stroke-width="1.1" />
<line x1="236.24" y1="417.76" x2="240.24" y2="417.76" stroke="#444444" stroke-width="1.1" />
<line x1="236.24" y1="436.29" x2="240.24" y2="436.29" stroke="#444444" stroke-width="1.1" />
<rect x="236.04" y="424.82" width="4.40" height="4.40" fill="#444444" stroke="none" stroke-width="0"/>
<line x1="267.53" y1="394.21" x2="267.53" y2="408.11" stroke="#444444" stroke-width="1.1" />
<line x1="265.53" y1="394.21" x2="269.53" y2="394.21" stroke="#444444" stroke-width="1.1" />
<line x1="265.53" y1="408.11" x2="269.53" y2="408.11" stroke="#444444" stroke-width="1.1" />
<rect x="265.33" y="398.96" width="4.40" height="4.40" fill="#444444" stroke="none" stroke-width="0"/>
<line x1="296.82" y1="389.19" x2="296.82" y2="404.63" stroke="#444444" stroke-width="1.1" />
<line x1="294.82" y1="389.19" x2="298.82" y2="389.19" stroke="#444444" stroke-width="1.1" />
<line x1="294.82" y1="404.63" x2="298.82" y2="404.63" stroke="#444444" stroke-width="1.1" />
<rect x="294.62" y="394.71" width="4.40" height="4.40" fill="#444444" stroke="none" stroke-width="0"/>
<polyline points="62.50,390.74 91.79,378.39 121.08,401.16 150.37,389.58 179.66,405.41 208.95,418.92 238.24,423.93 267.53,397.30 296.82,398.07" fill="none" stroke="#e0393e" stroke-width="1.5" stroke-linejoin="round" />
<line x1="62.50" y1="381.86" x2="62.50" y2="399.62" stroke="#e0393e" stroke-width="1.1" />
<line x1="60.50" y1="381.86" x2="64.50" y2="381.86" stroke="#e0393e" stroke-width="1.1" />
<line x1="60.50" y1="399.62" x2="64.50" y2="399.62" stroke="#e0393e" stroke-width="1.1" />
<circle cx="62.50" cy="390.74" r="2.4000000000000004" fill="#e0393e"/>
<line x1="91.79" y1="372.60" x2="91.79" y2="384.18" stroke="#e0393e" stroke-width="1.1" />
<line x1="89.79" y1="372.60" x2="93.79" y2="372.60" stroke="#e0393e" stroke-width="1.1" />
<line x1="89.79" y1="384.18" x2="93.79" y2="384.18" stroke="#e0393e" stroke-width="1.1" />
<circle cx="91.79" cy="378.39" r="2.4000000000000004" fill="#e0393e"/>
<line x1="121.08" y1="397.30" x2="121.08" y2="405.02" stroke="#e0393e" stroke-width="1.1" />
<line x1="119.08" y1="397.30" x2="123.08" y2="397.30" stroke="#e0393e" stroke-width="1.1" />
<line x1="119.08" y1="405.02" x2="123.08" y2="405.02" stroke="#e0393e" stroke-width="1.1" />
<circle cx="121.08" cy="401.16" r="2.4000000000000004" fill="#e0393e"/>
<line x1="150.37" y1="384.95" x2="150.37" y2="394.21" stroke="#e0393e" stroke-width="1.1" />
<line x1="148.37" y1="384.95" x2="152.37" y2="384.95" stroke="#e0393e" stroke-width="1.1" />
<line x1="148.37" y1="394.21" x2="152.37" y2="394.21" stroke="#e0393e" stroke-width="1.1" />
<circle cx="150.37" cy="389.58" r="2.4000000000000004" fill="#e0393e"/>
<line x1="179.66" y1="396.53" x2="179.66" y2="414.28" stroke="#e0393e" stroke-width="1.1" />
<line x1="177.66" y1="396.53" x2="181.66" y2="396.53" stroke="#e0393e" stroke-width="1.1" />
<line x1="177.66" y1="414.28" x2="181.66" y2="414.28" stroke="#e0393e" stroke-width="1.1" />
<circle cx="179.66" cy="405.41" r="2.4000000000000004" fill="#e0393e"/>
<line x1="208.95" y1="413.13" x2="208.95" y2="424.71" stroke="#e0393e" stroke-width="1.1" />
<line x1="206.95" y1="413.13" x2="210.95" y2="413.13" stroke="#e0393e" stroke-width="1.1" />
<line x1="206.95" y1="424.71" x2="210.95" y2="424.71" stroke="#e0393e" stroke-width="1.1" />
<circle cx="208.95" cy="418.92" r="2.4000000000000004" fill="#e0393e"/>
<line x1="238.24" y1="419.69" x2="238.24" y2="428.18" stroke="#e0393e" stroke-width="1.1" />
<line x1="236.24" y1="419.69" x2="240.24" y2="419.69" stroke="#e0393e" stroke-width="1.1" />
<line x1="236.24" y1="428.18" x2="240.24" y2="428.18" stroke="#e0393e" stroke-width="1.1" />
<circle cx="238.24" cy="423.93" r="2.4000000000000004" fill="#e0393e"/>
<line x1="267.53" y1="392.28" x2="267.53" y2="402.32" stroke="#e0393e" stroke-width="1.1" />
<line x1="265.53" y1="392.28" x2="269.53" y2="392.28" stroke="#e0393e" stroke-width="1.1" />
<line x1="265.53" y1="402.32" x2="269.53" y2="402.32" stroke="#e0393e" stroke-width="1.1" />
<circle cx="267.53" cy="397.30" r="2.4000000000000004" fill="#e0393e"/>
<line x1="296.82" y1="392.28" x2="296.82" y2="403.86" stroke="#e0393e" stroke-width="1.1" />
<line x1="294.82" y1="392.28" x2="298.82" y2="392.28" stroke="#e0393e" stroke-width="1.1" />
<line x1="294.82" y1="403.86" x2="298.82" y2="403.86" stroke="#e0393e" stroke-width="1.1" />
<circle cx="296.82" cy="398.07" r="2.4000000000000004" fill="#e0393e"/>
<polyline points="62.50,336.31 91.79,310.06 121.08,318.94 150.37,350.59 179.66,377.23 208.95,395.37 238.24,395.76 267.53,372.98 296.82,354.07" fill="none" stroke="#4472c4" stroke-width="1.5" stroke-linejoin="round" />
<line x1="62.50" y1="328.59" x2="62.50" y2="344.03" stroke="#4472c4" stroke-width="1.1" />
<line x1="60.50" y1="328.59" x2="64.50" y2="328.59" stroke="#4472c4" stroke-width="1.1" />
<line x1="60.50" y1="344.03" x2="64.50" y2="344.03" stroke="#4472c4" stroke-width="1.1" />
<path d="M62.50,333.51 L65.10,338.31 L59.90,338.31 Z" fill="#4472c4"/>
<line x1="91.79" y1="304.66" x2="91.79" y2="315.47" stroke="#4472c4" stroke-width="1.1" />
<line x1="89.79" y1="304.66" x2="93.79" y2="304.66" stroke="#4472c4" stroke-width="1.1" />
<line x1="89.79" y1="315.47" x2="93.79" y2="315.47" stroke="#4472c4" stroke-width="1.1" />
<path d="M91.79,307.26 L94.39,312.06 L89.19,312.06 Z" fill="#4472c4"/>
<line x1="121.08" y1="312.38" x2="121.08" y2="325.50" stroke="#4472c4" stroke-width="1.1" />
<line x1="119.08" y1="312.38" x2="123.08" y2="312.38" stroke="#4472c4" stroke-width="1.1" />
<line x1="119.08" y1="325.50" x2="123.08" y2="325.50" stroke="#4472c4" stroke-width="1.1" />
<path d="M121.08,316.14 L123.68,320.94 L118.48,320.94 Z" fill="#4472c4"/>
<line x1="150.37" y1="345.58" x2="150.37" y2="355.61" stroke="#4472c4" stroke-width="1.1" />
<line x1="148.37" y1="345.58" x2="152.37" y2="345.58" stroke="#4472c4" stroke-width="1.1" />
<line x1="148.37" y1="355.61" x2="152.37" y2="355.61" stroke="#4472c4" stroke-width="1.1" />
<path d="M150.37,347.79 L152.97,352.59 L147.77,352.59 Z" fill="#4472c4"/>
<line x1="179.66" y1="373.75" x2="179.66" y2="380.70" stroke="#4472c4" stroke-width="1.1" />
<line x1="177.66" y1="373.75" x2="181.66" y2="373.75" stroke="#4472c4" stroke-width="1.1" />
<line x1="177.66" y1="380.70" x2="181.66" y2="380.70" stroke="#4472c4" stroke-width="1.1" />
<path d="M179.66,374.43 L182.26,379.23 L177.06,379.23 Z" fill="#4472c4"/>
<line x1="208.95" y1="390.35" x2="208.95" y2="400.39" stroke="#4472c4" stroke-width="1.1" />
<line x1="206.95" y1="390.35" x2="210.95" y2="390.35" stroke="#4472c4" stroke-width="1.1" />
<line x1="206.95" y1="400.39" x2="210.95" y2="400.39" stroke="#4472c4" stroke-width="1.1" />
<path d="M208.95,392.57 L211.55,397.37 L206.35,397.37 Z" fill="#4472c4"/>
<line x1="238.24" y1="393.83" x2="238.24" y2="397.69" stroke="#4472c4" stroke-width="1.1" />
<line x1="236.24" y1="393.83" x2="240.24" y2="393.83" stroke="#4472c4" stroke-width="1.1" />
<line x1="236.24" y1="397.69" x2="240.24" y2="397.69" stroke="#4472c4" stroke-width="1.1" />
<path d="M238.24,392.96 L240.84,397.76 L235.64,397.76 Z" fill="#4472c4"/>
<line x1="267.53" y1="368.35" x2="267.53" y2="377.61" stroke="#4472c4" stroke-width="1.1" />
<line x1="265.53" y1="368.35" x2="269.53" y2="368.35" stroke="#4472c4" stroke-width="1.1" />
<line x1="265.53" y1="377.61" x2="269.53" y2="377.61" stroke="#4472c4" stroke-width="1.1" />
<path d="M267.53,370.18 L270.13,374.98 L264.93,374.98 Z" fill="#4472c4"/>
<line x1="296.82" y1="349.05" x2="296.82" y2="359.09" stroke="#4472c4" stroke-width="1.1" />
<line x1="294.82" y1="349.05" x2="298.82" y2="349.05" stroke="#4472c4" stroke-width="1.1" />
<line x1="294.82" y1="359.09" x2="298.82" y2="359.09" stroke="#4472c4" stroke-width="1.1" />
<path d="M296.82,351.27 L299.42,356.07 L294.22,356.07 Z" fill="#4472c4"/>
<polyline points="62.50,430.50 91.79,425.48 121.08,428.57 150.37,437.44 179.66,439.76 208.95,444.01 238.24,445.55 267.53,439.37 296.82,437.06" fill="none" stroke="#5cbd6a" stroke-width="1.5" stroke-linejoin="round" />
<line x1="62.50" y1="426.64" x2="62.50" y2="434.36" stroke="#5cbd6a" stroke-width="1.1" />
<line x1="60.50" y1="426.64" x2="64.50" y2="426.64" stroke="#5cbd6a" stroke-width="1.1" />
<line x1="60.50" y1="434.36" x2="64.50" y2="434.36" stroke="#5cbd6a" stroke-width="1.1" />
<path d="M62.50,433.30 L65.10,428.50 L59.90,428.50 Z" fill="#5cbd6a"/>
<line x1="91.79" y1="421.62" x2="91.79" y2="429.34" stroke="#5cbd6a" stroke-width="1.1" />
<line x1="89.79" y1="421.62" x2="93.79" y2="421.62" stroke="#5cbd6a" stroke-width="1.1" />
<line x1="89.79" y1="429.34" x2="93.79" y2="429.34" stroke="#5cbd6a" stroke-width="1.1" />
<path d="M91.79,428.28 L94.39,423.48 L89.19,423.48 Z" fill="#5cbd6a"/>
<line x1="121.08" y1="424.71" x2="121.08" y2="432.43" stroke="#5cbd6a" stroke-width="1.1" />
<line x1="119.08" y1="424.71" x2="123.08" y2="424.71" stroke="#5cbd6a" stroke-width="1.1" />
<line x1="119.08" y1="432.43" x2="123.08" y2="432.43" stroke="#5cbd6a" stroke-width="1.1" />
<path d="M121.08,431.37 L123.68,426.57 L118.48,426.57 Z" fill="#5cbd6a"/>
<line x1="150.37" y1="434.74" x2="150.37" y2="440.15" stroke="#5cbd6a" stroke-width="1.1" />
<line x1="148.37" y1="434.74" x2="152.37" y2="434.74" stroke="#5cbd6a" stroke-width="1.1" />
<line x1="148.37" y1="440.15" x2="152.37" y2="440.15" stroke="#5cbd6a" stroke-width="1.1" />
<path d="M150.37,440.24 L152.97,435.44 L147.77,435.44 Z" fill="#5cbd6a"/>
<line x1="179.66" y1="436.67" x2="179.66" y2="442.85" stroke="#5cbd6a" stroke-width="1.1" />
<line x1="177.66" y1="436.67" x2="181.66" y2="436.67" stroke="#5cbd6a" stroke-width="1.1" />
<line x1="177.66" y1="442.85" x2="181.66" y2="442.85" stroke="#5cbd6a" stroke-width="1.1" />
<path d="M179.66,442.56 L182.26,437.76 L177.06,437.76 Z" fill="#5cbd6a"/>
<line x1="208.95" y1="442.85" x2="208.95" y2="445.16" stroke="#5cbd6a" stroke-width="1.1" />
<line x1="206.95" y1="442.85" x2="210.95" y2="442.85" stroke="#5cbd6a" stroke-width="1.1" />
<line x1="206.95" y1="445.16" x2="210.95" y2="445.16" stroke="#5cbd6a" stroke-width="1.1" />
<path d="M208.95,446.81 L211.55,442.01 L206.35,442.01 Z" fill="#5cbd6a"/>
<line x1="238.24" y1="444.39" x2="238.24" y2="446.71" stroke="#5cbd6a" stroke-width="1.1" />
<line x1="236.24" y1="444.39" x2="240.24" y2="444.39" stroke="#5cbd6a" stroke-width="1.1" />
<line x1="236.24" y1="446.71" x2="240.24" y2="446.71" stroke="#5cbd6a" stroke-width="1.1" />
<path d="M238.24,448.35 L240.84,443.55 L235.64,443.55 Z" fill="#5cbd6a"/>
<line x1="267.53" y1="437.44" x2="267.53" y2="441.30" stroke="#5cbd6a" stroke-width="1.1" />
<line x1="265.53" y1="437.44" x2="269.53" y2="437.44" stroke="#5cbd6a" stroke-width="1.1" />
<line x1="265.53" y1="441.30" x2="269.53" y2="441.30" stroke="#5cbd6a" stroke-width="1.1" />
<path d="M267.53,442.17 L270.13,437.37 L264.93,437.37 Z" fill="#5cbd6a"/>
<line x1="296.82" y1="433.58" x2="296.82" y2="440.53" stroke="#5cbd6a" stroke-width="1.1" />
<line x1="294.82" y1="433.58" x2="298.82" y2="433.58" stroke="#5cbd6a" stroke-width="1.1" />
<line x1="294.82" y1="440.53" x2="298.82" y2="440.53" stroke="#5cbd6a" stroke-width="1.1" />
<path d="M296.82,439.86 L299.42,435.06 L294.22,435.06 Z" fill="#5cbd6a"/>
<rect x="48.60" y="281.50" width="262.70" height="173.70" fill="none" stroke="#000" stroke-width="1.2"/>
<line x1="48.60" y1="455.20" x2="52.00" y2="455.20" stroke="#000" stroke-width="1" />
<text x="44.40" y="458.30" font-size="8.8" text-anchor="end" font-family="Liberation Serif" font-weight="bold" fill="#000" >0</text>
<line x1="48.60" y1="435.90" x2="52.00" y2="435.90" stroke="#000" stroke-width="1" />
<text x="44.40" y="439.00" font-size="8.8" text-anchor="end" font-family="Liberation Serif" font-weight="bold" fill="#000" >5</text>
<line x1="48.60" y1="416.60" x2="52.00" y2="416.60" stroke="#000" stroke-width="1" />
<text x="44.40" y="419.70" font-size="8.8" text-anchor="end" font-family="Liberation Serif" font-weight="bold" fill="#000" >10</text>
<line x1="48.60" y1="397.30" x2="52.00" y2="397.30" stroke="#000" stroke-width="1" />
<text x="44.40" y="400.40" font-size="8.8" text-anchor="end" font-family="Liberation Serif" font-weight="bold" fill="#000" >15</text>
<line x1="48.60" y1="378.00" x2="52.00" y2="378.00" stroke="#000" stroke-width="1" />
<text x="44.40" y="381.10" font-size="8.8" text-anchor="end" font-family="Liberation Serif" font-weight="bold" fill="#000" >20</text>
<line x1="48.60" y1="358.70" x2="52.00" y2="358.70" stroke="#000" stroke-width="1" />
<text x="44.40" y="361.80" font-size="8.8" text-anchor="end" font-family="Liberation Serif" font-weight="bold" fill="#000" >25</text>
<line x1="48.60" y1="339.40" x2="52.00" y2="339.40" stroke="#000" stroke-width="1" />
<text x="44.40" y="342.50" font-size="8.8" text-anchor="end" font-family="Liberation Serif" font-weight="bold" fill="#000" >30</text>
<line x1="48.60" y1="320.10" x2="52.00" y2="320.10" stroke="#000" stroke-width="1" />
<text x="44.40" y="323.20" font-size="8.8" text-anchor="end" font-family="Liberation Serif" font-weight="bold" fill="#000" >35</text>
<line x1="48.60" y1="300.80" x2="52.00" y2="300.80" stroke="#000" stroke-width="1" />
<text x="44.40" y="303.90" font-size="8.8" text-anchor="end" font-family="Liberation Serif" font-weight="bold" fill="#000" >40</text>
<line x1="48.60" y1="281.50" x2="52.00" y2="281.50" stroke="#000" stroke-width="1" />
<text x="44.40" y="284.60" font-size="8.8" text-anchor="end" font-family="Liberation Serif" font-weight="bold" fill="#000" >45</text>
<line x1="48.60" y1="445.55" x2="50.40" y2="445.55" stroke="#000" stroke-width="0.9" />
<line x1="48.60" y1="426.25" x2="50.40" y2="426.25" stroke="#000" stroke-width="0.9" />
<line x1="48.60" y1="406.95" x2="50.40" y2="406.95" stroke="#000" stroke-width="0.9" />
<line x1="48.60" y1="387.65" x2="50.40" y2="387.65" stroke="#000" stroke-width="0.9" />
<line x1="48.60" y1="368.35" x2="50.40" y2="368.35" stroke="#000" stroke-width="0.9" />
<line x1="48.60" y1="349.05" x2="50.40" y2="349.05" stroke="#000" stroke-width="0.9" />
<line x1="48.60" y1="329.75" x2="50.40" y2="329.75" stroke="#000" stroke-width="0.9" />
<line x1="48.60" y1="310.45" x2="50.40" y2="310.45" stroke="#000" stroke-width="0.9" />
<line x1="48.60" y1="291.15" x2="50.40" y2="291.15" stroke="#000" stroke-width="0.9" />
<line x1="62.50" y1="455.20" x2="62.50" y2="452.20" stroke="#000" stroke-width="1" />
<line x1="91.79" y1="455.20" x2="91.79" y2="452.20" stroke="#000" stroke-width="1" />
<line x1="121.08" y1="455.20" x2="121.08" y2="452.20" stroke="#000" stroke-width="1" />
<line x1="150.37" y1="455.20" x2="150.37" y2="452.20" stroke="#000" stroke-width="1" />
<line x1="179.66" y1="455.20" x2="179.66" y2="452.20" stroke="#000" stroke-width="1" />
<line x1="208.95" y1="455.20" x2="208.95" y2="452.20" stroke="#000" stroke-width="1" />
<line x1="238.24" y1="455.20" x2="238.24" y2="452.20" stroke="#000" stroke-width="1" />
<line x1="267.53" y1="455.20" x2="267.53" y2="452.20" stroke="#000" stroke-width="1" />
<line x1="296.82" y1="455.20" x2="296.82" y2="452.20" stroke="#000" stroke-width="1" />
<text x="70.50" y="466.40" font-size="9.25" text-anchor="end" font-family="Liberation Serif" font-weight="bold" transform="rotate(-45 70.50 466.40)">1 BSA/0.2 g-C<tspan font-size="6.47" dy="2.04">3</tspan><tspan dy="-2.04">N</tspan><tspan font-size="6.47" dy="2.04">4</tspan><tspan dy="-2.04">/1 GA</tspan></text>
<text x="99.79" y="466.40" font-size="9.25" text-anchor="end" font-family="Liberation Serif" font-weight="bold" transform="rotate(-45 99.79 466.40)">1 BSA/0.2 g-C<tspan font-size="6.47" dy="2.04">3</tspan><tspan dy="-2.04">N</tspan><tspan font-size="6.47" dy="2.04">4</tspan><tspan dy="-2.04">/5 GA</tspan></text>
<text x="129.08" y="466.40" font-size="9.25" text-anchor="end" font-family="Liberation Serif" font-weight="bold" transform="rotate(-45 129.08 466.40)">1 BSA/0.2 g-C<tspan font-size="6.47" dy="2.04">3</tspan><tspan dy="-2.04">N</tspan><tspan font-size="6.47" dy="2.04">4</tspan><tspan dy="-2.04">/10 GA</tspan></text>
<text x="158.37" y="466.40" font-size="9.25" text-anchor="end" font-family="Liberation Serif" font-weight="bold" transform="rotate(-45 158.37 466.40)">0.5 BSA/0.2 g-C<tspan font-size="6.47" dy="2.04">3</tspan><tspan dy="-2.04">N</tspan><tspan font-size="6.47" dy="2.04">4</tspan><tspan dy="-2.04">/0.1 GA</tspan></text>
<text x="187.66" y="466.40" font-size="9.25" text-anchor="end" font-family="Liberation Serif" font-weight="bold" transform="rotate(-45 187.66 466.40)">0.5 BSA/0.2 g-C<tspan font-size="6.47" dy="2.04">3</tspan><tspan dy="-2.04">N</tspan><tspan font-size="6.47" dy="2.04">4</tspan><tspan dy="-2.04">/0.5 GA</tspan></text>
<text x="216.95" y="466.40" font-size="9.25" text-anchor="end" font-family="Liberation Serif" font-weight="bold" transform="rotate(-45 216.95 466.40)">0.5 BSA/0.2 g-C<tspan font-size="6.47" dy="2.04">3</tspan><tspan dy="-2.04">N</tspan><tspan font-size="6.47" dy="2.04">4</tspan><tspan dy="-2.04">/5 GA</tspan></text>
<text x="246.24" y="466.40" font-size="9.25" text-anchor="end" font-family="Liberation Serif" font-weight="bold" transform="rotate(-45 246.24 466.40)">0.1 BSA/0.2 g-C<tspan font-size="6.47" dy="2.04">3</tspan><tspan dy="-2.04">N</tspan><tspan font-size="6.47" dy="2.04">4</tspan><tspan dy="-2.04">/0.1 GA</tspan></text>
<text x="275.53" y="466.40" font-size="9.25" text-anchor="end" font-family="Liberation Serif" font-weight="bold" transform="rotate(-45 275.53 466.40)">0.1 BSA/0.2 g-C<tspan font-size="6.47" dy="2.04">3</tspan><tspan dy="-2.04">N</tspan><tspan font-size="6.47" dy="2.04">4</tspan><tspan dy="-2.04">/0.5 GA</tspan></text>
<text x="304.82" y="466.40" font-size="9.25" text-anchor="end" font-family="Liberation Serif" font-weight="bold" transform="rotate(-45 304.82 466.40)">0.1 BSA/0.2 g-C<tspan font-size="6.47" dy="2.04">3</tspan><tspan dy="-2.04">N</tspan><tspan font-size="6.47" dy="2.04">4</tspan><tspan dy="-2.04">/1 GA</tspan></text>
<text x="0.00" y="292.00" font-size="30.5" text-anchor="start" font-family="Liberation Serif" font-weight="bold" fill="#000" style="stroke:none">c</text>
<text x="0" y="0" font-size="11.6" text-anchor="middle" font-family="Liberation Serif" font-weight="bold" transform="translate(28.5 368.7) rotate(-90)">Current (μA)</text>
<line x1="261.00" y1="291.80" x2="284.30" y2="291.80" stroke="#444444" stroke-width="1.5" />
<rect x="270.60" y="289.80" width="4.00" height="4.00" fill="#444444" stroke="none" stroke-width="0"/>
<text x="286.70" y="295.40" font-size="10" text-anchor="start" font-family="Liberation Serif" font-weight="bold" fill="#000" >Cd</text>
<line x1="261.00" y1="304.30" x2="284.30" y2="304.30" stroke="#e0393e" stroke-width="1.5" />
<circle cx="272.60" cy="304.30" r="2.2" fill="#e0393e"/>
<text x="286.70" y="307.90" font-size="10" text-anchor="start" font-family="Liberation Serif" font-weight="bold" fill="#000" >Pb</text>
<line x1="261.00" y1="316.80" x2="284.30" y2="316.80" stroke="#4472c4" stroke-width="1.5" />
<path d="M272.60,314.20 L275.00,318.60 L270.20,318.60 Z" fill="#4472c4"/>
<text x="286.70" y="320.40" font-size="10" text-anchor="start" font-family="Liberation Serif" font-weight="bold" fill="#000" >Hg</text>
<line x1="261.00" y1="329.30" x2="284.30" y2="329.30" stroke="#5cbd6a" stroke-width="1.5" />
<path d="M272.60,331.90 L275.00,327.50 L270.20,327.50 Z" fill="#5cbd6a"/>
<text x="286.70" y="332.90" font-size="10" text-anchor="start" font-family="Liberation Serif" font-weight="bold" fill="#000" >Zn</text>
<polyline points="404.30,494.24 404.80,494.21 405.30,494.17 405.80,494.13 406.30,494.07 406.80,494.02 407.30,493.95 407.80,493.87 408.30,493.77 408.80,493.66 409.30,493.53 409.80,493.39 410.30,493.21 410.80,493.00 411.30,492.76 411.80,492.46 412.30,492.11 412.80,491.69 413.30,491.19 413.80,490.58 414.30,489.85 414.80,488.97 415.30,487.92 415.80,486.67 416.30,485.18 416.80,483.44 417.30,481.40 417.80,479.05 418.30,476.34 418.80,473.28 419.30,469.85 419.80,466.06 420.30,461.91 420.80,457.43 421.30,452.69 421.80,447.73 422.30,442.64 422.80,437.50 423.30,432.44 423.80,427.55 424.30,422.97 424.80,418.81 425.30,415.18 425.80,412.20 426.30,409.94 426.80,408.48 427.30,407.87 427.80,408.48 428.30,410.99 428.80,415.26 429.30,421.01 429.80,427.88 430.30,435.46 430.80,443.35 431.30,451.16 431.80,458.58 432.30,465.37 432.80,471.36 433.30,476.48 433.80,480.70 434.30,484.08 434.80,486.70 435.30,488.65 435.80,490.04 436.30,490.98 436.80,491.57 437.30,491.87 437.80,491.96 438.30,491.86 438.80,491.62 439.30,491.24 439.80,490.74 440.30,490.10 440.80,489.30 441.30,488.34 441.80,487.18 442.30,485.78 442.80,484.13 443.30,482.17 443.80,479.88 444.30,477.22 444.80,474.16 445.30,470.68 445.80,466.75 446.30,462.39 446.80,457.59 447.30,452.40 447.80,446.85 448.30,441.01 448.80,434.98 449.30,428.85 449.80,422.74 450.30,416.80 450.80,411.16 451.30,405.97 451.80,401.37 452.30,397.49 452.80,394.44 453.30,392.32 453.80,391.19 454.30,391.19 454.80,393.30 455.30,397.62 455.80,403.85 456.30,411.60 456.80,420.41 457.30,429.78 457.80,439.25 458.30,448.40 458.80,456.90 459.30,464.52 459.80,471.14 460.30,476.70 460.80,481.24 461.30,484.83 461.80,487.60 462.30,489.68 462.80,491.20 463.30,492.28 463.80,493.02 464.30,493.53 464.80,493.86 465.30,494.07 465.80,494.21 466.30,494.29 466.80,494.34 467.30,494.37 467.80,494.38 468.30,494.39 468.80,494.39 469.30,494.40 469.80,494.40 470.30,494.40 470.80,494.40 471.30,494.40 471.80,494.40 472.30,494.40 472.80,494.40 473.30,494.40 473.80,494.40 474.30,494.40 474.80,494.40 475.30,494.40 475.80,494.40 476.30,494.40 476.80,494.40 477.30,494.40 477.80,494.40 478.30,494.40 478.80,494.40 479.30,494.40 479.80,494.40 480.30,494.40 480.80,494.40 481.30,494.40 481.80,494.40 482.30,494.40 482.80,494.40 483.30,494.40 483.80,494.40 484.30,494.40 484.80,494.40 485.30,494.40 485.80,494.40 486.30,494.40 486.80,494.40 487.30,494.40 487.80,494.40 488.30,494.40 488.80,494.40 489.30,494.40 489.80,494.40 490.30,494.40 490.80,494.40 491.30,494.40 491.80,494.40 492.30,494.40 492.80,494.40 493.30,494.40 493.80,494.40 494.30,494.40 494.80,494.40 495.30,494.40 495.80,494.40 496.30,494.40 496.80,494.40 497.30,494.40 497.80,494.40 498.30,494.40 498.80,494.40 499.30,494.40 499.80,494.40 500.30,494.40 500.80,494.40 501.30,494.40 501.80,494.40 502.30,494.40 502.80,494.40 503.30,494.40 503.80,494.40 504.30,494.40 504.80,494.40 505.30,494.40 505.80,494.40 506.30,494.40 506.80,494.40 507.30,494.40 507.80,494.40 508.30,494.40 508.80,494.40 509.30,494.40 509.80,494.40 510.30,494.40 510.80,494.40 511.30,494.39 511.80,494.39 512.30,494.39 512.80,494.39 513.30,494.39 513.80,494.39 514.30,494.39 514.80,494.38 515.30,494.38 515.80,494.38 516.30,494.38 516.80,494.37 517.30,494.37 517.80,494.36 518.30,494.36 518.80,494.35 519.30,494.34 519.80,494.34 520.30,494.33 520.80,494.32 521.30,494.31 521.80,494.29 522.30,494.28 522.80,494.26 523.30,494.24 523.80,494.22 524.30,494.20 524.80,494.17 525.30,494.14 525.80,494.11 526.30,494.08 526.80,494.04 527.30,493.99 527.80,493.95 528.30,493.89 528.80,493.83 529.30,493.77 529.80,493.70 530.30,493.62 530.80,493.54 531.30,493.44 531.80,493.34 532.30,493.23 532.80,493.11 533.30,492.98 533.80,492.84 534.30,492.69 534.80,492.53 535.30,492.35 535.80,492.16 536.30,491.96 536.80,491.74 537.30,491.51 537.80,491.26 538.30,490.99 538.80,490.71 539.30,490.41 539.80,490.09 540.30,489.75 540.80,489.40 541.30,489.02 541.80,488.63 542.30,488.21 542.80,487.78 543.30,487.32 543.80,486.85 544.30,486.35 544.80,485.84 545.30,485.30 545.80,484.74 546.30,484.17 546.80,483.57 547.30,482.95 547.80,482.31 548.30,481.64 548.80,480.94 549.30,480.22 549.80,479.45 550.30,478.64 550.80,477.77 551.30,476.83 551.80,475.81 552.30,474.67 552.80,473.40 553.30,471.96 553.80,470.33 554.30,468.45 554.80,466.29 555.30,463.81 555.80,460.96 556.30,457.70 556.80,453.99 557.30,449.82 557.80,445.16 558.30,440.03 558.80,434.44 559.30,428.44 559.80,422.09 560.30,415.50 560.80,408.78 561.30,402.07 561.80,395.52 562.30,389.30 562.80,383.59 563.30,378.54 563.80,374.32 564.30,371.05 564.80,368.85 565.30,367.79 565.80,368.33 566.30,372.13 566.80,379.05 567.30,388.57 567.80,399.96 568.30,412.44 568.80,425.21 569.30,437.60 569.80,449.04 570.30,459.17 570.80,467.79 571.30,474.85 571.80,480.43 572.30,484.69 572.80,487.84 573.30,490.09 573.80,491.64 574.30,492.68 574.80,493.36 575.30,493.79 575.80,494.05 576.30,494.21 576.80,494.29 577.30,494.34 577.80,494.37 578.30,494.39 578.80,494.39 579.30,494.40 579.80,494.40 580.30,494.40 580.80,494.40 581.30,494.40 581.80,494.40 582.30,494.40 582.80,494.40 583.30,494.39 583.80,494.39 584.30,494.39 584.80,494.39 585.30,494.39 585.80,494.39 586.30,494.38 586.80,494.38 587.30,494.38 587.80,494.37 588.30,494.37 588.80,494.36 589.30,494.35 589.80,494.34 590.30,494.33 590.80,494.32 591.30,494.31 591.80,494.29 592.30,494.27 592.80,494.25 593.30,494.23 593.80,494.20 594.30,494.17 594.80,494.14 595.30,494.10 595.80,494.06 596.30,494.01 596.80,493.96 597.30,493.90 597.80,493.83 598.30,493.76 598.80,493.68 599.30,493.59 599.80,493.49 600.30,493.39 600.80,493.27 601.30,493.14 601.80,493.00 602.30,492.84 602.80,492.67 603.30,492.48 603.80,492.28 604.30,492.05 604.80,491.80 605.30,491.52 605.80,491.22 606.30,490.88 606.80,490.51 607.30,490.10 607.80,489.64 608.30,489.13 608.80,488.57 609.30,487.96 609.80,487.28 610.30,486.55 610.80,485.75 611.30,484.90 611.80,483.99 612.30,483.03 612.80,482.02 613.30,480.97 613.80,479.91 614.30,478.83 614.80,477.76 615.30,476.72 615.80,475.72 616.30,474.78 616.80,473.92 617.30,473.16 617.80,472.52 618.30,472.02 618.80,471.66 619.30,471.45 619.80,471.40 620.30,471.52 620.80,471.79 621.30,472.21 621.80,472.77 622.30,473.45 622.80,474.24 623.30,475.12 623.80,476.06 624.30,477.05 624.80,478.06 625.30,479.08 625.80,480.09 626.30,481.07 626.80,482.01 627.30,482.91 627.80,483.75 628.30,484.53 628.80,485.25 629.30,485.90 629.80,486.50 630.30,487.05 630.80,487.54 631.30,487.98 631.80,488.38 632.30,488.74 632.80,489.07 633.30,489.37 633.80,489.65 634.30,489.90 634.80,490.14 635.30,490.37 635.80,490.58 636.30,490.78 636.80,490.97 637.30,491.15 637.80,491.32 638.30,491.49 638.80,491.65 639.30,491.81 639.80,491.96 640.30,492.10 640.80,492.24 641.30,492.37 641.80,492.50 642.30,492.62 642.80,492.74 643.30,492.85 643.80,492.96 644.30,493.06 644.80,493.15 645.30,493.24 645.80,493.33 646.30,493.41 646.80,493.48 647.30,493.55 647.80,493.62 648.30,493.68 648.80,493.74 649.30,493.80 649.80,493.85 650.30,493.90 650.80,493.94 651.30,493.98 651.80,494.02 652.30,494.05 652.80,494.09 653.30,494.11 653.80,494.14 654.30,494.17 654.80,494.19 655.30,494.21 655.80,494.23 656.30,494.25 656.80,494.26 657.30,494.28 657.80,494.29 658.30,494.30 658.80,494.31 659.30,494.32 659.80,494.33 660.30,494.34 660.80,494.35 661.30,494.35 661.80,494.36 662.30,494.36 662.80,494.37 663.30,494.37 663.80,494.37 664.30,494.38 664.80,494.38 665.30,494.38 665.80,494.39 666.30,494.39 666.80,494.39 667.30,494.39 667.80,494.39 668.30,494.39 668.80,494.39 669.30,494.39 669.80,494.40 670.30,494.40 670.80,494.40 671.30,494.40 671.80,494.40 672.30,494.40 672.80,494.40 673.30,494.40 673.80,494.40 674.30,494.40 674.80,494.40 675.30,494.40 675.80,494.40 676.30,494.40 676.80,494.40 677.30,494.40 677.80,494.40 678.30,494.40 678.80,494.40 679.30,494.40 679.80,494.40 680.30,494.40 680.80,494.40 681.30,494.40 681.80,494.40 682.30,494.40" fill="none" stroke="#111111" stroke-width="1.5" stroke-linejoin="round" />
<polyline points="404.30,494.33 404.80,494.31 405.30,494.30 405.80,494.27 406.30,494.25 406.80,494.22 407.30,494.18 407.80,494.14 408.30,494.10 408.80,494.04 409.30,493.98 409.80,493.90 410.30,493.82 410.80,493.72 411.30,493.61 411.80,493.48 412.30,493.33 412.80,493.16 413.30,492.95 413.80,492.71 414.30,492.42 414.80,492.08 415.30,491.67 415.80,491.18 416.30,490.59 416.80,489.88 417.30,489.02 417.80,487.99 418.30,486.75 418.80,485.28 419.30,483.54 419.80,481.50 420.30,479.12 420.80,476.40 421.30,473.30 421.80,469.82 422.30,465.97 422.80,461.78 423.30,457.27 423.80,452.51 424.30,447.57 424.80,442.54 425.30,437.54 425.80,432.68 426.30,428.09 426.80,423.90 427.30,420.23 427.80,417.20 428.30,414.90 428.80,413.41 429.30,412.79 429.80,413.36 430.30,415.74 430.80,419.77 431.30,425.20 431.80,431.69 432.30,438.85 432.80,446.30 433.30,453.68 433.80,460.69 434.30,467.11 434.80,472.78 435.30,477.63 435.80,481.64 436.30,484.85 436.80,487.35 437.30,489.23 437.80,490.59 438.30,491.54 438.80,492.16 439.30,492.53 439.80,492.71 440.30,492.74 440.80,492.67 441.30,492.50 441.80,492.25 442.30,491.93 442.80,491.52 443.30,491.01 443.80,490.40 444.30,489.65 444.80,488.75 445.30,487.67 445.80,486.37 446.30,484.82 446.80,482.99 447.30,480.85 447.80,478.36 448.30,475.49 448.80,472.24 449.30,468.59 449.80,464.55 450.30,460.14 450.80,455.41 451.30,450.41 451.80,445.22 452.30,439.94 452.80,434.69 453.30,429.58 453.80,424.76 454.30,420.36 454.80,416.51 455.30,413.33 455.80,410.92 456.30,409.37 456.80,408.72 457.30,409.33 457.80,411.83 458.30,416.08 458.80,421.79 459.30,428.62 459.80,436.15 460.30,443.99 460.80,451.77 461.30,459.17 461.80,465.94 462.30,471.93 462.80,477.07 463.30,481.33 463.80,484.77 464.30,487.46 464.80,489.52 465.30,491.04 465.80,492.14 466.30,492.92 466.80,493.45 467.30,493.80 467.80,494.03 468.30,494.18 468.80,494.27 469.30,494.33 469.80,494.36 470.30,494.38 470.80,494.39 471.30,494.39 471.80,494.40 472.30,494.40 472.80,494.40 473.30,494.40 473.80,494.40 474.30,494.40 474.80,494.40 475.30,494.40 475.80,494.40 476.30,494.40 476.80,494.40 477.30,494.40 477.80,494.40 478.30,494.40 478.80,494.40 479.30,494.40 479.80,494.40 480.30,494.40 480.80,494.40 481.30,494.40 481.80,494.40 482.30,494.40 482.80,494.40 483.30,494.40 483.80,494.40 484.30,494.40 484.80,494.40 485.30,494.40 485.80,494.40 486.30,494.40 486.80,494.40 487.30,494.40 487.80,494.40 488.30,494.40 488.80,494.40 489.30,494.40 489.80,494.40 490.30,494.40 490.80,494.40 491.30,494.40 491.80,494.40 492.30,494.40 492.80,494.40 493.30,494.40 493.80,494.40 494.30,494.40 494.80,494.40 495.30,494.40 495.80,494.40 496.30,494.40 496.80,494.40 497.30,494.40 497.80,494.40 498.30,494.40 498.80,494.40 499.30,494.40 499.80,494.40 500.30,494.40 500.80,494.40 501.30,494.40 501.80,494.40 502.30,494.40 502.80,494.40 503.30,494.40 503.80,494.40 504.30,494.40 504.80,494.40 505.30,494.40 505.80,494.40 506.30,494.40 506.80,494.40 507.30,494.40 507.80,494.40 508.30,494.40 508.80,494.40 509.30,494.40 509.80,494.40 510.30,494.39 510.80,494.39 511.30,494.39 511.80,494.39 512.30,494.39 512.80,494.39 513.30,494.39 513.80,494.38 514.30,494.38 514.80,494.38 515.30,494.38 515.80,494.37 516.30,494.37 516.80,494.36 517.30,494.36 517.80,494.35 518.30,494.35 518.80,494.34 519.30,494.33 519.80,494.32 520.30,494.31 520.80,494.30 521.30,494.28 521.80,494.27 522.30,494.25 522.80,494.23 523.30,494.21 523.80,494.19 524.30,494.16 524.80,494.13 525.30,494.10 525.80,494.06 526.30,494.02 526.80,493.98 527.30,493.93 527.80,493.87 528.30,493.82 528.80,493.75 529.30,493.68 529.80,493.60 530.30,493.52 530.80,493.42 531.30,493.32 531.80,493.21 532.30,493.09 532.80,492.96 533.30,492.82 533.80,492.67 534.30,492.51 534.80,492.33 535.30,492.14 535.80,491.94 536.30,491.72 536.80,491.48 537.30,491.23 537.80,490.96 538.30,490.67 538.80,490.37 539.30,490.04 539.80,489.70 540.30,489.33 540.80,488.94 541.30,488.53 541.80,488.10 542.30,487.65 542.80,487.17 543.30,486.67 543.80,486.14 544.30,485.59 544.80,485.02 545.30,484.42 545.80,483.79 546.30,483.14 546.80,482.47 547.30,481.78 547.80,481.05 548.30,480.31 548.80,479.54 549.30,478.74 549.80,477.92 550.30,477.07 550.80,476.19 551.30,475.27 551.80,474.32 552.30,473.31 552.80,472.25 553.30,471.13 553.80,469.91 554.30,468.60 554.80,467.15 555.30,465.55 555.80,463.76 556.30,461.75 556.80,459.47 557.30,456.88 557.80,453.93 558.30,450.58 558.80,446.79 559.30,442.52 559.80,437.73 560.30,432.42 560.80,426.58 561.30,420.23 561.80,413.40 562.30,406.15 562.80,398.58 563.30,390.78 563.80,382.90 564.30,375.07 564.80,367.48 565.30,360.29 565.80,353.69 566.30,347.84 566.80,342.92 567.30,339.05 567.80,336.37 568.30,334.94 568.80,335.05 569.30,338.99 569.80,346.98 570.30,358.39 570.80,372.35 571.30,387.88 571.80,403.99 572.30,419.76 572.80,434.46 573.30,447.59 573.80,458.85 574.30,468.13 574.80,475.53 575.30,481.21 575.80,485.43 576.30,488.47 576.80,490.59 577.30,492.02 577.80,492.95 578.30,493.54 578.80,493.91 579.30,494.12 579.80,494.25 580.30,494.32 580.80,494.36 581.30,494.38 581.80,494.39 582.30,494.39 582.80,494.39 583.30,494.39 583.80,494.39 584.30,494.39 584.80,494.39 585.30,494.39 585.80,494.38 586.30,494.38 586.80,494.38 587.30,494.37 587.80,494.37 588.30,494.36 588.80,494.36 589.30,494.35 589.80,494.34 590.30,494.33 590.80,494.32 591.30,494.31 591.80,494.29 592.30,494.27 592.80,494.25 593.30,494.23 593.80,494.21 594.30,494.18 594.80,494.15 595.30,494.11 595.80,494.07 596.30,494.03 596.80,493.98 597.30,493.93 597.80,493.87 598.30,493.81 598.80,493.73 599.30,493.65 599.80,493.57 600.30,493.47 600.80,493.37 601.30,493.25 601.80,493.13 602.30,492.99 602.80,492.84 603.30,492.67 603.80,492.48 604.30,492.28 604.80,492.05 605.30,491.79 605.80,491.51 606.30,491.19 606.80,490.83 607.30,490.42 607.80,489.97 608.30,489.46 608.80,488.89 609.30,488.25 609.80,487.53 610.30,486.74 610.80,485.86 611.30,484.90 611.80,483.84 612.30,482.70 612.80,481.48 613.30,480.18 613.80,478.81 614.30,477.39 614.80,475.92 615.30,474.43 615.80,472.94 616.30,471.47 616.80,470.04 617.30,468.69 617.80,467.44 618.30,466.32 618.80,465.34 619.30,464.54 619.80,463.92 620.30,463.51 620.80,463.32 621.30,463.34 621.80,463.58 622.30,464.03 622.80,464.67 623.30,465.51 623.80,466.51 624.30,467.65 624.80,468.91 625.30,470.26 625.80,471.68 626.30,473.15 626.80,474.62 627.30,476.10 627.80,477.54 628.30,478.94 628.80,480.28 629.30,481.55 629.80,482.75 630.30,483.85 630.80,484.88 631.30,485.81 631.80,486.66 632.30,487.43 632.80,488.12 633.30,488.74 633.80,489.30 634.30,489.79 634.80,490.23 635.30,490.62 635.80,490.98 636.30,491.29 636.80,491.57 637.30,491.82 637.80,492.05 638.30,492.26 638.80,492.45 639.30,492.62 639.80,492.78 640.30,492.93 640.80,493.06 641.30,493.18 641.80,493.29 642.30,493.40 642.80,493.49 643.30,493.58 643.80,493.66 644.30,493.74 644.80,493.80 645.30,493.86 645.80,493.92 646.30,493.97 646.80,494.02 647.30,494.06 647.80,494.10 648.30,494.14 648.80,494.17 649.30,494.19 649.80,494.22 650.30,494.24 650.80,494.26 651.30,494.28 651.80,494.29 652.30,494.31 652.80,494.32 653.30,494.33 653.80,494.34 654.30,494.35 654.80,494.36 655.30,494.36 655.80,494.37 656.30,494.37 656.80,494.38 657.30,494.38 657.80,494.38 658.30,494.39 658.80,494.39 659.30,494.39 659.80,494.39 660.30,494.39 660.80,494.39 661.30,494.40 661.80,494.40 662.30,494.40 662.80,494.40 663.30,494.40 663.80,494.40 664.30,494.40 664.80,494.40 665.30,494.40 665.80,494.40 666.30,494.40 666.80,494.40 667.30,494.40 667.80,494.40 668.30,494.40 668.80,494.40 669.30,494.40 669.80,494.40 670.30,494.40 670.80,494.40 671.30,494.40 671.80,494.40 672.30,494.40 672.80,494.40 673.30,494.40 673.80,494.40 674.30,494.40 674.80,494.40 675.30,494.40 675.80,494.40 676.30,494.40 676.80,494.40 677.30,494.40 677.80,494.40 678.30,494.40 678.80,494.40 679.30,494.40 679.80,494.40 680.30,494.40 680.80,494.40 681.30,494.40 681.80,494.40 682.30,494.40" fill="none" stroke="#e8352e" stroke-width="1.5" stroke-linejoin="round" />
<polyline points="404.30,494.37 404.80,494.36 405.30,494.35 405.80,494.33 406.30,494.32 406.80,494.30 407.30,494.28 407.80,494.25 408.30,494.22 408.80,494.18 409.30,494.13 409.80,494.08 410.30,494.02 410.80,493.94 411.30,493.86 411.80,493.76 412.30,493.65 412.80,493.52 413.30,493.38 413.80,493.21 414.30,493.02 414.80,492.81 415.30,492.58 415.80,492.31 416.30,492.01 416.80,491.67 417.30,491.29 417.80,490.85 418.30,490.34 418.80,489.75 419.30,489.05 419.80,488.23 420.30,487.25 420.80,486.07 421.30,484.67 421.80,482.99 422.30,481.01 422.80,478.67 423.30,475.97 423.80,472.88 424.30,469.40 424.80,465.56 425.30,461.41 425.80,457.03 426.30,452.53 426.80,448.03 427.30,443.70 427.80,439.70 428.30,436.18 428.80,433.31 429.30,431.21 429.80,429.99 430.30,429.72 430.80,430.96 431.30,433.88 431.80,438.24 432.30,443.71 432.80,449.90 433.30,456.39 433.80,462.82 434.30,468.86 434.80,474.29 435.30,478.98 435.80,482.87 436.30,485.97 436.80,488.35 437.30,490.11 437.80,491.36 438.30,492.21 438.80,492.74 439.30,493.05 439.80,493.19 440.30,493.21 440.80,493.15 441.30,493.03 441.80,492.86 442.30,492.65 442.80,492.41 443.30,492.12 443.80,491.80 444.30,491.44 444.80,491.02 445.30,490.54 445.80,489.98 446.30,489.33 446.80,488.57 447.30,487.65 447.80,486.57 448.30,485.27 448.80,483.71 449.30,481.86 449.80,479.68 450.30,477.12 450.80,474.17 451.30,470.82 451.80,467.08 452.30,462.99 452.80,458.61 453.30,454.03 453.80,449.37 454.30,444.79 454.80,440.44 455.30,436.50 455.80,433.12 456.30,430.47 456.80,428.66 457.30,427.78 457.80,428.03 458.30,430.03 458.80,433.68 459.30,438.69 459.80,444.68 460.30,451.25 460.80,457.98 461.30,464.50 461.80,470.52 462.30,475.85 462.80,480.39 463.30,484.11 463.80,487.05 464.30,489.29 464.80,490.95 465.30,492.13 465.80,492.95 466.30,493.50 466.80,493.85 467.30,494.08 467.80,494.22 468.30,494.30 468.80,494.34 469.30,494.37 469.80,494.39 470.30,494.39 470.80,494.40 471.30,494.40 471.80,494.40 472.30,494.40 472.80,494.40 473.30,494.40 473.80,494.40 474.30,494.40 474.80,494.40 475.30,494.40 475.80,494.40 476.30,494.40 476.80,494.40 477.30,494.40 477.80,494.40 478.30,494.40 478.80,494.40 479.30,494.40 479.80,494.40 480.30,494.40 480.80,494.40 481.30,494.40 481.80,494.40 482.30,494.40 482.80,494.40 483.30,494.40 483.80,494.40 484.30,494.40 484.80,494.40 485.30,494.40 485.80,494.40 486.30,494.40 486.80,494.40 487.30,494.40 487.80,494.40 488.30,494.40 488.80,494.40 489.30,494.40 489.80,494.40 490.30,494.40 490.80,494.40 491.30,494.40 491.80,494.40 492.30,494.40 492.80,494.40 493.30,494.40 493.80,494.40 494.30,494.40 494.80,494.40 495.30,494.40 495.80,494.40 496.30,494.40 496.80,494.40 497.30,494.40 497.80,494.40 498.30,494.40 498.80,494.40 499.30,494.40 499.80,494.40 500.30,494.40 500.80,494.40 501.30,494.40 501.80,494.40 502.30,494.40 502.80,494.40 503.30,494.40 503.80,494.40 504.30,494.40 504.80,494.40 505.30,494.40 505.80,494.40 506.30,494.40 506.80,494.40 507.30,494.40 507.80,494.40 508.30,494.40 508.80,494.40 509.30,494.40 509.80,494.40 510.30,494.40 510.80,494.40 511.30,494.40 511.80,494.40 512.30,494.40 512.80,494.40 513.30,494.39 513.80,494.39 514.30,494.39 514.80,494.39 515.30,494.39 515.80,494.39 516.30,494.39 516.80,494.38 517.30,494.38 517.80,494.38 518.30,494.38 518.80,494.37 519.30,494.37 519.80,494.36 520.30,494.36 520.80,494.35 521.30,494.34 521.80,494.34 522.30,494.33 522.80,494.32 523.30,494.30 523.80,494.29 524.30,494.28 524.80,494.26 525.30,494.24 525.80,494.22 526.30,494.20 526.80,494.17 527.30,494.14 527.80,494.11 528.30,494.07 528.80,494.03 529.30,493.99 529.80,493.94 530.30,493.89 530.80,493.83 531.30,493.76 531.80,493.69 532.30,493.61 532.80,493.53 533.30,493.43 533.80,493.33 534.30,493.22 534.80,493.10 535.30,492.97 535.80,492.83 536.30,492.67 536.80,492.51 537.30,492.33 537.80,492.14 538.30,491.94 538.80,491.72 539.30,491.48 539.80,491.23 540.30,490.96 540.80,490.68 541.30,490.38 541.80,490.06 542.30,489.72 542.80,489.36 543.30,488.99 543.80,488.59 544.30,488.17 544.80,487.74 545.30,487.28 545.80,486.81 546.30,486.31 546.80,485.80 547.30,485.27 547.80,484.71 548.30,484.14 548.80,483.55 549.30,482.94 549.80,482.32 550.30,481.67 550.80,481.01 551.30,480.33 551.80,479.63 552.30,478.90 552.80,478.15 553.30,477.36 553.80,476.53 554.30,475.63 554.80,474.67 555.30,473.60 555.80,472.42 556.30,471.07 556.80,469.54 557.30,467.77 557.80,465.72 558.30,463.35 558.80,460.61 559.30,457.46 559.80,453.86 560.30,449.80 560.80,445.29 561.30,440.33 561.80,434.98 562.30,429.32 562.80,423.44 563.30,417.48 563.80,411.60 564.30,405.95 564.80,400.73 565.30,396.11 565.80,392.26 566.30,389.32 566.80,387.42 567.30,386.62 567.80,387.69 568.30,392.03 568.80,399.27 569.30,408.77 569.80,419.74 570.30,431.35 570.80,442.83 571.30,453.54 571.80,463.04 572.30,471.09 572.80,477.61 573.30,482.69 573.80,486.49 574.30,489.22 574.80,491.12 575.30,492.39 575.80,493.20 576.30,493.71 576.80,494.01 577.30,494.19 577.80,494.29 578.30,494.34 578.80,494.37 579.30,494.39 579.80,494.39 580.30,494.40 580.80,494.40 581.30,494.40 581.80,494.40 582.30,494.40 582.80,494.40 583.30,494.39 583.80,494.39 584.30,494.39 584.80,494.39 585.30,494.39 585.80,494.38 586.30,494.38 586.80,494.38 587.30,494.37 587.80,494.37 588.30,494.36 588.80,494.36 589.30,494.35 589.80,494.34 590.30,494.33 590.80,494.32 591.30,494.31 591.80,494.29 592.30,494.28 592.80,494.26 593.30,494.24 593.80,494.21 594.30,494.19 594.80,494.16 595.30,494.12 595.80,494.08 596.30,494.04 596.80,493.99 597.30,493.94 597.80,493.88 598.30,493.81 598.80,493.74 599.30,493.66 599.80,493.58 600.30,493.48 600.80,493.38 601.30,493.26 601.80,493.14 602.30,493.00 602.80,492.85 603.30,492.68 603.80,492.50 604.30,492.29 604.80,492.07 605.30,491.81 605.80,491.53 606.30,491.22 606.80,490.87 607.30,490.47 607.80,490.02 608.30,489.52 608.80,488.96 609.30,488.33 609.80,487.62 610.30,486.83 610.80,485.96 611.30,485.00 611.80,483.94 612.30,482.80 612.80,481.56 613.30,480.24 613.80,478.83 614.30,477.36 614.80,475.84 615.30,474.28 615.80,472.71 616.30,471.14 616.80,469.61 617.30,468.13 617.80,466.75 618.30,465.48 618.80,464.35 619.30,463.39 619.80,462.62 620.30,462.06 620.80,461.72 621.30,461.60 621.80,461.71 622.30,462.06 622.80,462.61 623.30,463.38 623.80,464.33 624.30,465.45 624.80,466.70 625.30,468.08 625.80,469.54 626.30,471.06 626.80,472.61 627.30,474.17 627.80,475.71 628.30,477.22 628.80,478.67 629.30,480.06 629.80,481.36 630.30,482.59 630.80,483.72 631.30,484.76 631.80,485.71 632.30,486.57 632.80,487.35 633.30,488.05 633.80,488.67 634.30,489.23 634.80,489.73 635.30,490.18 635.80,490.57 636.30,490.93 636.80,491.24 637.30,491.53 637.80,491.78 638.30,492.02 638.80,492.23 639.30,492.42 639.80,492.59 640.30,492.75 640.80,492.90 641.30,493.04 641.80,493.16 642.30,493.28 642.80,493.38 643.30,493.48 643.80,493.57 644.30,493.65 644.80,493.73 645.30,493.80 645.80,493.86 646.30,493.92 646.80,493.97 647.30,494.02 647.80,494.06 648.30,494.10 648.80,494.13 649.30,494.17 649.80,494.19 650.30,494.22 650.80,494.24 651.30,494.26 651.80,494.28 652.30,494.30 652.80,494.31 653.30,494.32 653.80,494.33 654.30,494.34 654.80,494.35 655.30,494.36 655.80,494.36 656.30,494.37 656.80,494.37 657.30,494.38 657.80,494.38 658.30,494.38 658.80,494.39 659.30,494.39 659.80,494.39 660.30,494.39 660.80,494.39 661.30,494.39 661.80,494.40 662.30,494.40 662.80,494.40 663.30,494.40 663.80,494.40 664.30,494.40 664.80,494.40 665.30,494.40 665.80,494.40 666.30,494.40 666.80,494.40 667.30,494.40 667.80,494.40 668.30,494.40 668.80,494.40 669.30,494.40 669.80,494.40 670.30,494.40 670.80,494.40 671.30,494.40 671.80,494.40 672.30,494.40 672.80,494.40 673.30,494.40 673.80,494.40 674.30,494.40 674.80,494.40 675.30,494.40 675.80,494.40 676.30,494.40 676.80,494.40 677.30,494.40 677.80,494.40 678.30,494.40 678.80,494.40 679.30,494.40 679.80,494.40 680.30,494.40 680.80,494.40 681.30,494.40 681.80,494.40 682.30,494.40" fill="none" stroke="#3f51b5" stroke-width="1.5" stroke-linejoin="round" />
<polyline points="404.30,494.39 404.80,494.38 405.30,494.38 405.80,494.37 406.30,494.37 406.80,494.36 407.30,494.34 407.80,494.33 408.30,494.31 408.80,494.29 409.30,494.26 409.80,494.23 410.30,494.19 410.80,494.15 411.30,494.09 411.80,494.03 412.30,493.95 412.80,493.86 413.30,493.76 413.80,493.64 414.30,493.50 414.80,493.35 415.30,493.17 415.80,492.97 416.30,492.75 416.80,492.50 417.30,492.22 417.80,491.91 418.30,491.57 418.80,491.19 419.30,490.77 419.80,490.29 420.30,489.74 420.80,489.11 421.30,488.38 421.80,487.50 422.30,486.44 422.80,485.17 423.30,483.63 423.80,481.79 424.30,479.60 424.80,477.04 425.30,474.12 425.80,470.86 426.30,467.34 426.80,463.65 427.30,459.95 427.80,456.39 428.30,453.17 428.80,450.48 429.30,448.47 429.80,447.29 430.30,447.02 430.80,448.07 431.30,450.51 431.80,454.12 432.30,458.60 432.80,463.57 433.30,468.69 433.80,473.62 434.30,478.12 434.80,482.04 435.30,485.29 435.80,487.87 436.30,489.85 436.80,491.28 437.30,492.29 437.80,492.95 438.30,493.36 438.80,493.60 439.30,493.70 439.80,493.72 440.30,493.67 440.80,493.58 441.30,493.46 441.80,493.30 442.30,493.12 442.80,492.91 443.30,492.68 443.80,492.41 444.30,492.11 444.80,491.79 445.30,491.42 445.80,491.02 446.30,490.57 446.80,490.06 447.30,489.49 447.80,488.83 448.30,488.07 448.80,487.17 449.30,486.10 449.80,484.81 450.30,483.24 450.80,481.36 451.30,479.11 451.80,476.45 452.30,473.38 452.80,469.90 453.30,466.06 453.80,461.96 454.30,457.74 454.80,453.57 455.30,449.66 455.80,446.21 456.30,443.44 456.80,441.52 457.30,440.58 457.80,440.81 458.30,442.66 458.80,446.01 459.30,450.56 459.80,455.93 460.30,461.71 460.80,467.49 461.30,472.94 461.80,477.82 462.30,482.00 462.80,485.41 463.30,488.09 463.80,490.11 464.30,491.58 464.80,492.60 465.30,493.29 465.80,493.73 466.30,494.01 466.80,494.18 467.30,494.28 467.80,494.34 468.30,494.37 468.80,494.38 469.30,494.39 469.80,494.40 470.30,494.40 470.80,494.40 471.30,494.40 471.80,494.40 472.30,494.40 472.80,494.40 473.30,494.40 473.80,494.40 474.30,494.40 474.80,494.40 475.30,494.40 475.80,494.40 476.30,494.40 476.80,494.40 477.30,494.40 477.80,494.40 478.30,494.40 478.80,494.40 479.30,494.40 479.80,494.40 480.30,494.40 480.80,494.40 481.30,494.40 481.80,494.40 482.30,494.40 482.80,494.40 483.30,494.40 483.80,494.40 484.30,494.40 484.80,494.40 485.30,494.40 485.80,494.40 486.30,494.40 486.80,494.40 487.30,494.40 487.80,494.40 488.30,494.40 488.80,494.40 489.30,494.40 489.80,494.40 490.30,494.40 490.80,494.40 491.30,494.40 491.80,494.40 492.30,494.40 492.80,494.40 493.30,494.40 493.80,494.40 494.30,494.40 494.80,494.40 495.30,494.40 495.80,494.40 496.30,494.40 496.80,494.40 497.30,494.40 497.80,494.40 498.30,494.40 498.80,494.40 499.30,494.40 499.80,494.40 500.30,494.40 500.80,494.40 501.30,494.40 501.80,494.40 502.30,494.40 502.80,494.40 503.30,494.40 503.80,494.40 504.30,494.40 504.80,494.40 505.30,494.40 505.80,494.40 506.30,494.40 506.80,494.40 507.30,494.40 507.80,494.40 508.30,494.40 508.80,494.40 509.30,494.40 509.80,494.40 510.30,494.40 510.80,494.40 511.30,494.40 511.80,494.40 512.30,494.40 512.80,494.40 513.30,494.40 513.80,494.40 514.30,494.39 514.80,494.39 515.30,494.39 515.80,494.39 516.30,494.39 516.80,494.39 517.30,494.38 517.80,494.38 518.30,494.38 518.80,494.38 519.30,494.37 519.80,494.37 520.30,494.36 520.80,494.36 521.30,494.35 521.80,494.34 522.30,494.34 522.80,494.33 523.30,494.31 523.80,494.30 524.30,494.29 524.80,494.27 525.30,494.26 525.80,494.24 526.30,494.21 526.80,494.19 527.30,494.16 527.80,494.13 528.30,494.10 528.80,494.06 529.30,494.02 529.80,493.97 530.30,493.92 530.80,493.86 531.30,493.80 531.80,493.73 532.30,493.65 532.80,493.57 533.30,493.48 533.80,493.38 534.30,493.27 534.80,493.15 535.30,493.03 535.80,492.89 536.30,492.74 536.80,492.58 537.30,492.41 537.80,492.22 538.30,492.02 538.80,491.80 539.30,491.57 539.80,491.33 540.30,491.07 540.80,490.79 541.30,490.50 541.80,490.19 542.30,489.86 542.80,489.51 543.30,489.15 543.80,488.77 544.30,488.37 544.80,487.95 545.30,487.51 545.80,487.06 546.30,486.59 546.80,486.10 547.30,485.60 547.80,485.07 548.30,484.54 548.80,483.99 549.30,483.42 549.80,482.84 550.30,482.25 550.80,481.65 551.30,481.03 551.80,480.39 552.30,479.74 552.80,479.06 553.30,478.35 553.80,477.59 554.30,476.78 554.80,475.89 555.30,474.90 555.80,473.78 556.30,472.50 556.80,471.02 557.30,469.31 557.80,467.32 558.30,465.03 558.80,462.42 559.30,459.46 559.80,456.18 560.30,452.59 560.80,448.76 561.30,444.76 561.80,440.70 562.30,436.71 562.80,432.91 563.30,429.47 563.80,426.53 564.30,424.21 564.80,422.63 565.30,421.87 565.80,422.28 566.30,425.16 566.80,430.33 567.30,437.27 567.80,445.31 568.30,453.75 568.80,461.96 569.30,469.45 569.80,475.91 570.30,481.19 570.80,485.31 571.30,488.37 571.80,490.55 572.30,492.03 572.80,492.99 573.30,493.59 573.80,493.96 574.30,494.16 574.80,494.28 575.30,494.34 575.80,494.37 576.30,494.39 576.80,494.39 577.30,494.40 577.80,494.40 578.30,494.40 578.80,494.40 579.30,494.40 579.80,494.40 580.30,494.40 580.80,494.40 581.30,494.40 581.80,494.40 582.30,494.40 582.80,494.40 583.30,494.39 583.80,494.39 584.30,494.39 584.80,494.39 585.30,494.39 585.80,494.39 586.30,494.38 586.80,494.38 587.30,494.37 587.80,494.37 588.30,494.36 588.80,494.36 589.30,494.35 589.80,494.34 590.30,494.33 590.80,494.32 591.30,494.31 591.80,494.30 592.30,494.28 592.80,494.26 593.30,494.24 593.80,494.22 594.30,494.19 594.80,494.16 595.30,494.13 595.80,494.09 596.30,494.05 596.80,494.01 597.30,493.96 597.80,493.90 598.30,493.84 598.80,493.77 599.30,493.70 599.80,493.61 600.30,493.52 600.80,493.42 601.30,493.32 601.80,493.20 602.30,493.07 602.80,492.92 603.30,492.76 603.80,492.59 604.30,492.39 604.80,492.18 605.30,491.93 605.80,491.67 606.30,491.36 606.80,491.02 607.30,490.64 607.80,490.21 608.30,489.73 608.80,489.19 609.30,488.58 609.80,487.91 610.30,487.16 610.80,486.33 611.30,485.42 611.80,484.42 612.30,483.34 612.80,482.19 613.30,480.96 613.80,479.66 614.30,478.32 614.80,476.93 615.30,475.52 615.80,474.11 616.30,472.72 616.80,471.38 617.30,470.10 617.80,468.92 618.30,467.85 618.80,466.93 619.30,466.17 619.80,465.59 620.30,465.20 620.80,465.02 621.30,465.04 621.80,465.26 622.30,465.69 622.80,466.30 623.30,467.09 623.80,468.03 624.30,469.11 624.80,470.30 625.30,471.58 625.80,472.93 626.30,474.31 626.80,475.70 627.30,477.10 627.80,478.46 628.30,479.79 628.80,481.05 629.30,482.26 629.80,483.38 630.30,484.43 630.80,485.40 631.30,486.28 631.80,487.09 632.30,487.81 632.80,488.47 633.30,489.05 633.80,489.58 634.30,490.04 634.80,490.46 635.30,490.83 635.80,491.16 636.30,491.46 636.80,491.73 637.30,491.97 637.80,492.18 638.30,492.38 638.80,492.56 639.30,492.72 639.80,492.87 640.30,493.01 640.80,493.13 641.30,493.25 641.80,493.35 642.30,493.45 642.80,493.54 643.30,493.63 643.80,493.70 644.30,493.77 644.80,493.84 645.30,493.89 645.80,493.95 646.30,494.00 646.80,494.04 647.30,494.08 647.80,494.12 648.30,494.15 648.80,494.18 649.30,494.21 649.80,494.23 650.30,494.25 650.80,494.27 651.30,494.29 651.80,494.30 652.30,494.31 652.80,494.33 653.30,494.34 653.80,494.34 654.30,494.35 654.80,494.36 655.30,494.36 655.80,494.37 656.30,494.37 656.80,494.38 657.30,494.38 657.80,494.38 658.30,494.39 658.80,494.39 659.30,494.39 659.80,494.39 660.30,494.39 660.80,494.39 661.30,494.40 661.80,494.40 662.30,494.40 662.80,494.40 663.30,494.40 663.80,494.40 664.30,494.40 664.80,494.40 665.30,494.40 665.80,494.40 666.30,494.40 666.80,494.40 667.30,494.40 667.80,494.40 668.30,494.40 668.80,494.40 669.30,494.40 669.80,494.40 670.30,494.40 670.80,494.40 671.30,494.40 671.80,494.40 672.30,494.40 672.80,494.40 673.30,494.40 673.80,494.40 674.30,494.40 674.80,494.40 675.30,494.40 675.80,494.40 676.30,494.40 676.80,494.40 677.30,494.40 677.80,494.40 678.30,494.40 678.80,494.40 679.30,494.40 679.80,494.40 680.30,494.40 680.80,494.40 681.30,494.40 681.80,494.40 682.30,494.40" fill="none" stroke="#b04fd8" stroke-width="1.5" stroke-linejoin="round" />
<polyline points="404.30,494.39 404.80,494.39 405.30,494.39 405.80,494.38 406.30,494.38 406.80,494.37 407.30,494.37 407.80,494.36 408.30,494.35 408.80,494.33 409.30,494.32 409.80,494.29 410.30,494.27 410.80,494.24 411.30,494.20 411.80,494.16 412.30,494.11 412.80,494.05 413.30,493.98 413.80,493.90 414.30,493.80 414.80,493.69 415.30,493.57 415.80,493.42 416.30,493.26 416.80,493.08 417.30,492.88 417.80,492.65 418.30,492.41 418.80,492.13 419.30,491.84 419.80,491.51 420.30,491.16 420.80,490.76 421.30,490.33 421.80,489.84 422.30,489.29 422.80,488.63 423.30,487.85 423.80,486.90 424.30,485.72 424.80,484.27 425.30,482.50 425.80,480.36 426.30,477.83 426.80,474.92 427.30,471.69 427.80,468.25 428.30,464.73 428.80,461.34 429.30,458.29 429.80,455.79 430.30,454.04 430.80,453.17 431.30,453.36 431.80,455.00 432.30,457.94 432.80,461.88 433.30,466.45 433.80,471.24 434.30,475.90 434.80,480.15 435.30,483.81 435.80,486.80 436.30,489.12 436.80,490.83 437.30,492.04 437.80,492.84 438.30,493.34 438.80,493.63 439.30,493.78 439.80,493.82 440.30,493.80 440.80,493.73 441.30,493.63 441.80,493.51 442.30,493.36 442.80,493.19 443.30,493.00 443.80,492.79 444.30,492.55 444.80,492.29 445.30,492.00 445.80,491.69 446.30,491.34 446.80,490.97 447.30,490.55 447.80,490.10 448.30,489.58 448.80,488.99 449.30,488.30 449.80,487.47 450.30,486.46 450.80,485.22 451.30,483.69 451.80,481.81 452.30,479.54 452.80,476.87 453.30,473.79 453.80,470.38 454.30,466.73 454.80,463.01 455.30,459.42 455.80,456.19 456.30,453.55 456.80,451.70 457.30,450.78 457.80,450.99 458.30,452.72 458.80,455.83 459.30,460.01 459.80,464.85 460.30,469.93 460.80,474.87 461.30,479.38 461.80,483.27 462.30,486.45 462.80,488.93 463.30,490.77 463.80,492.08 464.30,492.97 464.80,493.55 465.30,493.91 465.80,494.13 466.30,494.26 466.80,494.33 467.30,494.36 467.80,494.38 468.30,494.39 468.80,494.40 469.30,494.40 469.80,494.40 470.30,494.40 470.80,494.40 471.30,494.40 471.80,494.40 472.30,494.40 472.80,494.40 473.30,494.40 473.80,494.40 474.30,494.40 474.80,494.40 475.30,494.40 475.80,494.40 476.30,494.40 476.80,494.40 477.30,494.40 477.80,494.40 478.30,494.40 478.80,494.40 479.30,494.40 479.80,494.40 480.30,494.40 480.80,494.40 481.30,494.40 481.80,494.40 482.30,494.40 482.80,494.40 483.30,494.40 483.80,494.40 484.30,494.40 484.80,494.40 485.30,494.40 485.80,494.40 486.30,494.40 486.80,494.40 487.30,494.40 487.80,494.40 488.30,494.40 488.80,494.40 489.30,494.40 489.80,494.40 490.30,494.40 490.80,494.40 491.30,494.40 491.80,494.40 492.30,494.40 492.80,494.40 493.30,494.40 493.80,494.40 494.30,494.40 494.80,494.40 495.30,494.40 495.80,494.40 496.30,494.40 496.80,494.40 497.30,494.40 497.80,494.40 498.30,494.40 498.80,494.40 499.30,494.40 499.80,494.40 500.30,494.40 500.80,494.40 501.30,494.40 501.80,494.40 502.30,494.40 502.80,494.40 503.30,494.40 503.80,494.40 504.30,494.40 504.80,494.40 505.30,494.40 505.80,494.40 506.30,494.40 506.80,494.40 507.30,494.40 507.80,494.40 508.30,494.40 508.80,494.40 509.30,494.40 509.80,494.40 510.30,494.40 510.80,494.40 511.30,494.40 511.80,494.40 512.30,494.40 512.80,494.40 513.30,494.40 513.80,494.40 514.30,494.40 514.80,494.39 515.30,494.39 515.80,494.39 516.30,494.39 516.80,494.39 517.30,494.39 517.80,494.39 518.30,494.38 518.80,494.38 519.30,494.38 519.80,494.37 520.30,494.37 520.80,494.36 521.30,494.36 521.80,494.35 522.30,494.35 522.80,494.34 523.30,494.33 523.80,494.32 524.30,494.31 524.80,494.29 525.30,494.28 525.80,494.26 526.30,494.24 526.80,494.22 527.30,494.20 527.80,494.17 528.30,494.14 528.80,494.11 529.30,494.08 529.80,494.04 530.30,493.99 530.80,493.94 531.30,493.89 531.80,493.83 532.30,493.77 532.80,493.69 533.30,493.62 533.80,493.53 534.30,493.44 534.80,493.34 535.30,493.23 535.80,493.11 536.30,492.98 536.80,492.84 537.30,492.69 537.80,492.53 538.30,492.35 538.80,492.17 539.30,491.97 539.80,491.76 540.30,491.53 540.80,491.29 541.30,491.03 541.80,490.76 542.30,490.47 542.80,490.17 543.30,489.85 543.80,489.51 544.30,489.16 544.80,488.79 545.30,488.41 545.80,488.01 546.30,487.59 546.80,487.16 547.30,486.71 547.80,486.24 548.30,485.77 548.80,485.28 549.30,484.78 549.80,484.26 550.30,483.74 550.80,483.20 551.30,482.66 551.80,482.11 552.30,481.55 552.80,480.98 553.30,480.41 553.80,479.82 554.30,479.22 554.80,478.60 555.30,477.94 555.80,477.24 556.30,476.47 556.80,475.61 557.30,474.63 557.80,473.49 558.30,472.16 558.80,470.59 559.30,468.76 559.80,466.63 560.30,464.20 560.80,461.47 561.30,458.47 561.80,455.28 562.30,451.97 562.80,448.68 563.30,445.53 563.80,442.67 564.30,440.26 564.80,438.43 565.30,437.29 565.80,436.90 566.30,437.95 566.80,441.00 567.30,445.72 567.80,451.63 568.30,458.18 568.80,464.85 569.30,471.16 569.80,476.79 570.30,481.54 570.80,485.35 571.30,488.26 571.80,490.39 572.30,491.87 572.80,492.87 573.30,493.50 573.80,493.89 574.30,494.13 574.80,494.26 575.30,494.33 575.80,494.36 576.30,494.38 576.80,494.39 577.30,494.40 577.80,494.40 578.30,494.40 578.80,494.40 579.30,494.40 579.80,494.40 580.30,494.40 580.80,494.40 581.30,494.40 581.80,494.40 582.30,494.40 582.80,494.39 583.30,494.39 583.80,494.39 584.30,494.39 584.80,494.39 585.30,494.39 585.80,494.38 586.30,494.38 586.80,494.38 587.30,494.37 587.80,494.37 588.30,494.36 588.80,494.36 589.30,494.35 589.80,494.34 590.30,494.33 590.80,494.32 591.30,494.31 591.80,494.30 592.30,494.28 592.80,494.26 593.30,494.24 593.80,494.22 594.30,494.19 594.80,494.16 595.30,494.13 595.80,494.10 596.30,494.06 596.80,494.01 597.30,493.96 597.80,493.91 598.30,493.85 598.80,493.79 599.30,493.71 599.80,493.64 600.30,493.55 600.80,493.46 601.30,493.35 601.80,493.24 602.30,493.11 602.80,492.97 603.30,492.82 603.80,492.65 604.30,492.46 604.80,492.25 605.30,492.02 605.80,491.76 606.30,491.46 606.80,491.13 607.30,490.75 607.80,490.33 608.30,489.86 608.80,489.34 609.30,488.75 609.80,488.09 610.30,487.37 610.80,486.58 611.30,485.71 611.80,484.77 612.30,483.77 612.80,482.70 613.30,481.57 613.80,480.39 614.30,479.19 614.80,477.96 615.30,476.73 615.80,475.52 616.30,474.35 616.80,473.24 617.30,472.21 617.80,471.29 618.30,470.48 618.80,469.82 619.30,469.31 619.80,468.98 620.30,468.81 620.80,468.83 621.30,469.03 621.80,469.40 622.30,469.93 622.80,470.62 623.30,471.44 623.80,472.38 624.30,473.42 624.80,474.53 625.30,475.70 625.80,476.90 626.30,478.12 626.80,479.33 627.30,480.52 627.80,481.67 628.30,482.78 628.80,483.82 629.30,484.81 629.80,485.72 630.30,486.56 630.80,487.33 631.30,488.03 631.80,488.66 632.30,489.23 632.80,489.74 633.30,490.20 633.80,490.61 634.30,490.97 634.80,491.29 635.30,491.58 635.80,491.84 636.30,492.07 636.80,492.28 637.30,492.47 637.80,492.64 638.30,492.80 638.80,492.94 639.30,493.07 639.80,493.19 640.30,493.30 640.80,493.40 641.30,493.49 641.80,493.57 642.30,493.65 642.80,493.73 643.30,493.79 643.80,493.85 644.30,493.91 644.80,493.96 645.30,494.01 645.80,494.05 646.30,494.09 646.80,494.12 647.30,494.15 647.80,494.18 648.30,494.21 648.80,494.23 649.30,494.25 649.80,494.27 650.30,494.29 650.80,494.30 651.30,494.31 651.80,494.32 652.30,494.33 652.80,494.34 653.30,494.35 653.80,494.36 654.30,494.36 654.80,494.37 655.30,494.37 655.80,494.38 656.30,494.38 656.80,494.38 657.30,494.39 657.80,494.39 658.30,494.39 658.80,494.39 659.30,494.39 659.80,494.39 660.30,494.40 660.80,494.40 661.30,494.40 661.80,494.40 662.30,494.40 662.80,494.40 663.30,494.40 663.80,494.40 664.30,494.40 664.80,494.40 665.30,494.40 665.80,494.40 666.30,494.40 666.80,494.40 667.30,494.40 667.80,494.40 668.30,494.40 668.80,494.40 669.30,494.40 669.80,494.40 670.30,494.40 670.80,494.40 671.30,494.40 671.80,494.40 672.30,494.40 672.80,494.40 673.30,494.40 673.80,494.40 674.30,494.40 674.80,494.40 675.30,494.40 675.80,494.40 676.30,494.40 676.80,494.40 677.30,494.40 677.80,494.40 678.30,494.40 678.80,494.40 679.30,494.40 679.80,494.40 680.30,494.40 680.80,494.40 681.30,494.40 681.80,494.40 682.30,494.40" fill="none" stroke="#3d8b40" stroke-width="1.5" stroke-linejoin="round" />
<polyline points="404.30,494.40 404.80,494.40 405.30,494.40 405.80,494.40 406.30,494.40 406.80,494.40 407.30,494.40 407.80,494.40 408.30,494.40 408.80,494.40 409.30,494.40 409.80,494.40 410.30,494.40 410.80,494.40 411.30,494.40 411.80,494.40 412.30,494.40 412.80,494.40 413.30,494.40 413.80,494.40 414.30,494.40 414.80,494.40 415.30,494.40 415.80,494.40 416.30,494.40 416.80,494.40 417.30,494.39 417.80,494.38 418.30,494.37 418.80,494.34 419.30,494.29 419.80,494.21 420.30,494.08 420.80,493.88 421.30,493.57 421.80,493.14 422.30,492.53 422.80,491.72 423.30,490.68 423.80,489.40 424.30,487.88 424.80,486.17 425.30,484.34 425.80,482.49 426.30,480.74 426.80,479.22 427.30,478.07 427.80,477.37 428.30,477.21 428.80,477.73 429.30,478.91 429.80,480.63 430.30,482.67 430.80,484.84 431.30,486.93 431.80,488.82 432.30,490.40 432.80,491.66 433.30,492.60 433.80,493.27 434.30,493.72 434.80,494.01 435.30,494.18 435.80,494.29 436.30,494.34 436.80,494.37 437.30,494.39 437.80,494.39 438.30,494.40 438.80,494.40 439.30,494.40 439.80,494.40 440.30,494.40 440.80,494.40 441.30,494.40 441.80,494.40 442.30,494.40 442.80,494.39 443.30,494.39 443.80,494.37 444.30,494.35 444.80,494.30 445.30,494.23 445.80,494.11 446.30,493.93 446.80,493.64 447.30,493.23 447.80,492.64 448.30,491.84 448.80,490.80 449.30,489.50 449.80,487.93 450.30,486.13 450.80,484.16 451.30,482.12 451.80,480.13 452.30,478.35 452.80,476.90 453.30,475.93 453.80,475.51 454.30,475.76 454.80,476.78 455.30,478.46 455.80,480.58 456.30,482.94 456.80,485.29 457.30,487.47 457.80,489.35 458.30,490.88 458.80,492.05 459.30,492.90 459.80,493.48 460.30,493.86 460.80,494.10 461.30,494.24 461.80,494.32 462.30,494.36 462.80,494.38 463.30,494.39 463.80,494.40 464.30,494.40 464.80,494.40 465.30,494.40 465.80,494.40 466.30,494.40 466.80,494.40 467.30,494.40 467.80,494.40 468.30,494.40 468.80,494.40 469.30,494.40 469.80,494.40 470.30,494.40 470.80,494.40 471.30,494.40 471.80,494.40 472.30,494.40 472.80,494.40 473.30,494.40 473.80,494.40 474.30,494.40 474.80,494.40 475.30,494.40 475.80,494.40 476.30,494.40 476.80,494.40 477.30,494.40 477.80,494.40 478.30,494.40 478.80,494.40 479.30,494.40 479.80,494.40 480.30,494.40 480.80,494.40 481.30,494.40 481.80,494.40 482.30,494.40 482.80,494.40 483.30,494.40 483.80,494.40 484.30,494.40 484.80,494.40 485.30,494.40 485.80,494.40 486.30,494.40 486.80,494.40 487.30,494.40 487.80,494.40 488.30,494.40 488.80,494.40 489.30,494.40 489.80,494.40 490.30,494.40 490.80,494.40 491.30,494.40 491.80,494.40 492.30,494.40 492.80,494.40 493.30,494.40 493.80,494.40 494.30,494.40 494.80,494.40 495.30,494.40 495.80,494.40 496.30,494.40 496.80,494.40 497.30,494.40 497.80,494.40 498.30,494.40 498.80,494.40 499.30,494.40 499.80,494.40 500.30,494.40 500.80,494.40 501.30,494.40 501.80,494.40 502.30,494.40 502.80,494.40 503.30,494.40 503.80,494.40 504.30,494.40 504.80,494.40 505.30,494.40 505.80,494.40 506.30,494.40 506.80,494.40 507.30,494.40 507.80,494.40 508.30,494.40 508.80,494.40 509.30,494.40 509.80,494.40 510.30,494.40 510.80,494.40 511.30,494.40 511.80,494.40 512.30,494.40 512.80,494.40 513.30,494.40 513.80,494.40 514.30,494.40 514.80,494.40 515.30,494.39 515.80,494.39 516.30,494.39 516.80,494.39 517.30,494.39 517.80,494.39 518.30,494.39 518.80,494.38 519.30,494.38 519.80,494.38 520.30,494.37 520.80,494.37 521.30,494.36 521.80,494.36 522.30,494.35 522.80,494.34 523.30,494.33 523.80,494.32 524.30,494.31 524.80,494.29 525.30,494.28 525.80,494.26 526.30,494.24 526.80,494.21 527.30,494.19 527.80,494.16 528.30,494.13 528.80,494.09 529.30,494.05 529.80,494.00 530.30,493.95 530.80,493.89 531.30,493.83 531.80,493.76 532.30,493.68 532.80,493.60 533.30,493.50 533.80,493.40 534.30,493.29 534.80,493.16 535.30,493.03 535.80,492.88 536.30,492.73 536.80,492.56 537.30,492.37 537.80,492.17 538.30,491.96 538.80,491.73 539.30,491.48 539.80,491.22 540.30,490.94 540.80,490.65 541.30,490.33 541.80,490.00 542.30,489.65 542.80,489.28 543.30,488.89 543.80,488.49 544.30,488.06 544.80,487.62 545.30,487.16 545.80,486.68 546.30,486.19 546.80,485.68 547.30,485.16 547.80,484.63 548.30,484.08 548.80,483.52 549.30,482.96 549.80,482.38 550.30,481.81 550.80,481.22 551.30,480.64 551.80,480.06 552.30,479.48 552.80,478.91 553.30,478.34 553.80,477.79 554.30,477.24 554.80,476.72 555.30,476.21 555.80,475.72 556.30,475.25 556.80,474.81 557.30,474.39 557.80,474.00 558.30,473.65 558.80,473.33 559.30,473.04 559.80,472.79 560.30,472.57 560.80,472.40 561.30,472.26 561.80,472.17 562.30,472.11 562.80,472.12 563.30,472.91 563.80,474.72 564.30,477.28 564.80,480.26 565.30,483.31 565.80,486.14 566.30,488.55 566.80,490.47 567.30,491.89 567.80,492.88 568.30,493.53 568.80,493.92 569.30,494.15 569.80,494.28 570.30,494.34 570.80,494.37 571.30,494.39 571.80,494.40 572.30,494.40 572.80,494.40 573.30,494.40 573.80,494.40 574.30,494.40 574.80,494.40 575.30,494.40 575.80,494.40 576.30,494.40 576.80,494.40 577.30,494.40 577.80,494.40 578.30,494.40 578.80,494.40 579.30,494.40 579.80,494.40 580.30,494.40 580.80,494.40 581.30,494.40 581.80,494.40 582.30,494.40 582.80,494.40 583.30,494.40 583.80,494.40 584.30,494.40 584.80,494.40 585.30,494.40 585.80,494.39 586.30,494.39 586.80,494.39 587.30,494.39 587.80,494.39 588.30,494.39 588.80,494.38 589.30,494.38 589.80,494.38 590.30,494.38 590.80,494.37 591.30,494.37 591.80,494.36 592.30,494.36 592.80,494.35 593.30,494.34 593.80,494.33 594.30,494.32 594.80,494.31 595.30,494.30 595.80,494.29 596.30,494.27 596.80,494.26 597.30,494.24 597.80,494.22 598.30,494.20 598.80,494.17 599.30,494.15 599.80,494.12 600.30,494.08 600.80,494.04 601.30,494.00 601.80,493.96 602.30,493.91 602.80,493.85 603.30,493.78 603.80,493.71 604.30,493.63 604.80,493.53 605.30,493.43 605.80,493.31 606.30,493.17 606.80,493.02 607.30,492.84 607.80,492.64 608.30,492.42 608.80,492.16 609.30,491.88 609.80,491.57 610.30,491.23 610.80,490.85 611.30,490.44 611.80,490.00 612.30,489.52 612.80,489.02 613.30,488.50 613.80,487.95 614.30,487.40 614.80,486.84 615.30,486.27 615.80,485.72 616.30,485.19 616.80,484.69 617.30,484.23 617.80,483.81 618.30,483.45 618.80,483.16 619.30,482.93 619.80,482.78 620.30,482.71 620.80,482.71 621.30,482.78 621.80,482.91 622.30,483.10 622.80,483.34 623.30,483.64 623.80,483.98 624.30,484.36 624.80,484.78 625.30,485.23 625.80,485.70 626.30,486.18 626.80,486.68 627.30,487.18 627.80,487.68 628.30,488.17 628.80,488.65 629.30,489.12 629.80,489.56 630.30,489.99 630.80,490.39 631.30,490.77 631.80,491.12 632.30,491.45 632.80,491.75 633.30,492.02 633.80,492.27 634.30,492.50 634.80,492.70 635.30,492.89 635.80,493.05 636.30,493.20 636.80,493.33 637.30,493.45 637.80,493.56 638.30,493.65 638.80,493.73 639.30,493.80 639.80,493.87 640.30,493.93 640.80,493.98 641.30,494.02 641.80,494.06 642.30,494.10 642.80,494.13 643.30,494.16 643.80,494.19 644.30,494.21 644.80,494.23 645.30,494.25 645.80,494.27 646.30,494.28 646.80,494.30 647.30,494.31 647.80,494.32 648.30,494.33 648.80,494.34 649.30,494.35 649.80,494.35 650.30,494.36 650.80,494.36 651.30,494.37 651.80,494.37 652.30,494.38 652.80,494.38 653.30,494.38 653.80,494.38 654.30,494.39 654.80,494.39 655.30,494.39 655.80,494.39 656.30,494.39 656.80,494.39 657.30,494.39 657.80,494.40 658.30,494.40 658.80,494.40 659.30,494.40 659.80,494.40 660.30,494.40 660.80,494.40 661.30,494.40 661.80,494.40 662.30,494.40 662.80,494.40 663.30,494.40 663.80,494.40 664.30,494.40 664.80,494.40 665.30,494.40 665.80,494.40 666.30,494.40 666.80,494.40 667.30,494.40 667.80,494.40 668.30,494.40 668.80,494.40 669.30,494.40 669.80,494.40 670.30,494.40 670.80,494.40 671.30,494.40 671.80,494.40 672.30,494.40 672.80,494.40 673.30,494.40 673.80,494.40 674.30,494.40 674.80,494.40 675.30,494.40 675.80,494.40 676.30,494.40 676.80,494.40 677.30,494.40 677.80,494.40 678.30,494.40 678.80,494.40 679.30,494.40 679.80,494.40 680.30,494.40 680.80,494.40 681.30,494.40 681.80,494.40 682.30,494.40" fill="none" stroke="#2b2b62" stroke-width="1.5" stroke-linejoin="round" />
<rect x="403.70" y="282.30" width="279.40" height="220.40" fill="none" stroke="#000" stroke-width="1.5"/>
<line x1="403.70" y1="494.40" x2="406.90" y2="494.40" stroke="#000" stroke-width="1.1" />
<text x="398.80" y="498.80" font-size="13" text-anchor="end" font-family="Liberation Serif" font-weight="bold" fill="#000" >0</text>
<line x1="403.70" y1="451.90" x2="406.90" y2="451.90" stroke="#000" stroke-width="1.1" />
<text x="398.80" y="456.30" font-size="13" text-anchor="end" font-family="Liberation Serif" font-weight="bold" fill="#000" >10</text>
<line x1="403.70" y1="409.40" x2="406.90" y2="409.40" stroke="#000" stroke-width="1.1" />
<text x="398.80" y="413.80" font-size="13" text-anchor="end" font-family="Liberation Serif" font-weight="bold" fill="#000" >20</text>
<line x1="403.70" y1="366.90" x2="406.90" y2="366.90" stroke="#000" stroke-width="1.1" />
<text x="398.80" y="371.30" font-size="13" text-anchor="end" font-family="Liberation Serif" font-weight="bold" fill="#000" >30</text>
<line x1="403.70" y1="324.40" x2="406.90" y2="324.40" stroke="#000" stroke-width="1.1" />
<text x="398.80" y="328.80" font-size="13" text-anchor="end" font-family="Liberation Serif" font-weight="bold" fill="#000" >40</text>
<line x1="403.70" y1="281.90" x2="406.90" y2="281.90" stroke="#000" stroke-width="1.1" />
<text x="398.80" y="286.30" font-size="13" text-anchor="end" font-family="Liberation Serif" font-weight="bold" fill="#000" >50</text>
<line x1="403.70" y1="473.15" x2="405.70" y2="473.15" stroke="#000" stroke-width="0.9" />
<line x1="403.70" y1="430.65" x2="405.70" y2="430.65" stroke="#000" stroke-width="0.9" />
<line x1="403.70" y1="388.15" x2="405.70" y2="388.15" stroke="#000" stroke-width="0.9" />
<line x1="403.70" y1="345.65" x2="405.70" y2="345.65" stroke="#000" stroke-width="0.9" />
<line x1="403.70" y1="303.15" x2="405.70" y2="303.15" stroke="#000" stroke-width="0.9" />
<text x="403.00" y="517.20" font-size="11.2" text-anchor="middle" font-family="Liberation Serif" font-weight="bold" fill="#000" >-1.2</text>
<line x1="441.25" y1="502.70" x2="441.25" y2="499.70" stroke="#000" stroke-width="1.1" />
<text x="441.25" y="517.20" font-size="11.2" text-anchor="middle" font-family="Liberation Serif" font-weight="bold" fill="#000" >-0.9</text>
<line x1="479.50" y1="502.70" x2="479.50" y2="499.70" stroke="#000" stroke-width="1.1" />
<text x="479.50" y="517.20" font-size="11.2" text-anchor="middle" font-family="Liberation Serif" font-weight="bold" fill="#000" >-0.6</text>
<line x1="517.75" y1="502.70" x2="517.75" y2="499.70" stroke="#000" stroke-width="1.1" />
<text x="517.75" y="517.20" font-size="11.2" text-anchor="middle" font-family="Liberation Serif" font-weight="bold" fill="#000" >-0.3</text>
<line x1="556.00" y1="502.70" x2="556.00" y2="499.70" stroke="#000" stroke-width="1.1" />
<text x="556.00" y="517.20" font-size="11.2" text-anchor="middle" font-family="Liberation Serif" font-weight="bold" fill="#000" >0.0</text>
<line x1="594.25" y1="502.70" x2="594.25" y2="499.70" stroke="#000" stroke-width="1.1" />
<text x="594.25" y="517.20" font-size="11.2" text-anchor="middle" font-family="Liberation Serif" font-weight="bold" fill="#000" >0.3</text>
<line x1="632.50" y1="502.70" x2="632.50" y2="499.70" stroke="#000" stroke-width="1.1" />
<text x="632.50" y="517.20" font-size="11.2" text-anchor="middle" font-family="Liberation Serif" font-weight="bold" fill="#000" >0.6</text>
<line x1="670.75" y1="502.70" x2="670.75" y2="499.70" stroke="#000" stroke-width="1.1" />
<text x="670.75" y="517.20" font-size="11.2" text-anchor="middle" font-family="Liberation Serif" font-weight="bold" fill="#000" >0.9</text>
<line x1="422.12" y1="502.70" x2="422.12" y2="500.70" stroke="#000" stroke-width="0.9" />
<line x1="460.38" y1="502.70" x2="460.38" y2="500.70" stroke="#000" stroke-width="0.9" />
<line x1="498.62" y1="502.70" x2="498.62" y2="500.70" stroke="#000" stroke-width="0.9" />
<line x1="536.88" y1="502.70" x2="536.88" y2="500.70" stroke="#000" stroke-width="0.9" />
<line x1="575.12" y1="502.70" x2="575.12" y2="500.70" stroke="#000" stroke-width="0.9" />
<line x1="613.38" y1="502.70" x2="613.38" y2="500.70" stroke="#000" stroke-width="0.9" />
<line x1="651.62" y1="502.70" x2="651.62" y2="500.70" stroke="#000" stroke-width="0.9" />
<text x="359.00" y="294.80" font-size="27.6" text-anchor="start" font-family="Liberation Serif" font-weight="bold" fill="#000" style="stroke:none">d</text>
<text x="0" y="0" font-size="14.4" text-anchor="middle" font-family="Liberation Serif" font-weight="bold" transform="translate(376.2 391.9) rotate(-90)">Current (μA)</text>
<text x="543.00" y="537.00" font-size="14.6" text-anchor="middle" font-family="Liberation Serif" font-weight="bold" fill="#000" >Potential (V)</text>
<line x1="619.00" y1="297.60" x2="645.80" y2="297.60" stroke="#111111" stroke-width="1.6" />
<text x="648.80" y="301.80" font-size="11.8" text-anchor="start" font-family="Liberation Serif" font-weight="bold" fill="#000" >110 s</text>
<line x1="619.00" y1="312.00" x2="645.80" y2="312.00" stroke="#e8352e" stroke-width="1.6" />
<text x="648.80" y="316.20" font-size="11.8" text-anchor="start" font-family="Liberation Serif" font-weight="bold" fill="#000" >90 s</text>
<line x1="619.00" y1="326.40" x2="645.80" y2="326.40" stroke="#3f51b5" stroke-width="1.6" />
<text x="648.80" y="330.60" font-size="11.8" text-anchor="start" font-family="Liberation Serif" font-weight="bold" fill="#000" >70 s</text>
<line x1="619.00" y1="340.80" x2="645.80" y2="340.80" stroke="#b04fd8" stroke-width="1.6" />
<text x="648.80" y="345.00" font-size="11.8" text-anchor="start" font-family="Liberation Serif" font-weight="bold" fill="#000" >50 s</text>
<line x1="619.00" y1="355.20" x2="645.80" y2="355.20" stroke="#3d8b40" stroke-width="1.6" />
<text x="648.80" y="359.40" font-size="11.8" text-anchor="start" font-family="Liberation Serif" font-weight="bold" fill="#000" >30 s</text>
<line x1="619.00" y1="369.60" x2="645.80" y2="369.60" stroke="#2b2b62" stroke-width="1.6" />
<text x="648.80" y="373.80" font-size="11.8" text-anchor="start" font-family="Liberation Serif" font-weight="bold" fill="#000" >10 s</text>
<rect x="430.60" y="291.10" width="120.00" height="84.30" fill="#fff" stroke="none"/>
<polyline points="440.60,367.91 460.60,357.04 480.60,354.42 500.60,346.74 520.60,339.24 540.60,337.18" fill="none" stroke="#444444" stroke-width="0.8" stroke-linejoin="round" />
<line x1="440.60" y1="367.16" x2="440.60" y2="368.66" stroke="#444444" stroke-width="0.6" />
<line x1="439.70" y1="367.16" x2="441.50" y2="367.16" stroke="#444444" stroke-width="0.6" />
<line x1="439.70" y1="368.66" x2="441.50" y2="368.66" stroke="#444444" stroke-width="0.6" />
<rect x="439.60" y="366.91" width="2.00" height="2.00" fill="#444444" stroke="none" stroke-width="0"/>
<line x1="460.60" y1="356.10" x2="460.60" y2="357.98" stroke="#444444" stroke-width="0.6" />
<line x1="459.70" y1="356.10" x2="461.50" y2="356.10" stroke="#444444" stroke-width="0.6" />
<line x1="459.70" y1="357.98" x2="461.50" y2="357.98" stroke="#444444" stroke-width="0.6" />
<rect x="459.60" y="356.04" width="2.00" height="2.00" fill="#444444" stroke="none" stroke-width="0"/>
<line x1="480.60" y1="352.92" x2="480.60" y2="355.92" stroke="#444444" stroke-width="0.6" />
<line x1="479.70" y1="352.92" x2="481.50" y2="352.92" stroke="#444444" stroke-width="0.6" />
<line x1="479.70" y1="355.92" x2="481.50" y2="355.92" stroke="#444444" stroke-width="0.6" />
<rect x="479.60" y="353.42" width="2.00" height="2.00" fill="#444444" stroke="none" stroke-width="0"/>
<line x1="500.60" y1="345.80" x2="500.60" y2="347.67" stroke="#444444" stroke-width="0.6" />
<line x1="499.70" y1="345.80" x2="501.50" y2="345.80" stroke="#444444" stroke-width="0.6" />
<line x1="499.70" y1="347.67" x2="501.50" y2="347.67" stroke="#444444" stroke-width="0.6" />
<rect x="499.60" y="345.74" width="2.00" height="2.00" fill="#444444" stroke="none" stroke-width="0"/>
<line x1="520.60" y1="337.93" x2="520.60" y2="340.56" stroke="#444444" stroke-width="0.6" />
<line x1="519.70" y1="337.93" x2="521.50" y2="337.93" stroke="#444444" stroke-width="0.6" />
<line x1="519.70" y1="340.56" x2="521.50" y2="340.56" stroke="#444444" stroke-width="0.6" />
<rect x="519.60" y="338.24" width="2.00" height="2.00" fill="#444444" stroke="none" stroke-width="0"/>
<line x1="540.60" y1="336.06" x2="540.60" y2="338.31" stroke="#444444" stroke-width="0.6" />
<line x1="539.70" y1="336.06" x2="541.50" y2="336.06" stroke="#444444" stroke-width="0.6" />
<line x1="539.70" y1="338.31" x2="541.50" y2="338.31" stroke="#444444" stroke-width="0.6" />
<rect x="539.60" y="336.18" width="2.00" height="2.00" fill="#444444" stroke="none" stroke-width="0"/>
<polyline points="440.60,366.97 460.60,356.10 480.60,351.80 500.60,345.80 520.60,337.75 540.60,336.62" fill="none" stroke="#e0393e" stroke-width="0.8" stroke-linejoin="round" />
<line x1="440.60" y1="366.22" x2="440.60" y2="367.72" stroke="#e0393e" stroke-width="0.6" />
<line x1="439.70" y1="366.22" x2="441.50" y2="366.22" stroke="#e0393e" stroke-width="0.6" />
<line x1="439.70" y1="367.72" x2="441.50" y2="367.72" stroke="#e0393e" stroke-width="0.6" />
<circle cx="440.60" cy="366.97" r="1.2" fill="#e0393e"/>
<line x1="460.60" y1="355.17" x2="460.60" y2="357.04" stroke="#e0393e" stroke-width="0.6" />
<line x1="459.70" y1="355.17" x2="461.50" y2="355.17" stroke="#e0393e" stroke-width="0.6" />
<line x1="459.70" y1="357.04" x2="461.50" y2="357.04" stroke="#e0393e" stroke-width="0.6" />
<circle cx="460.60" cy="356.10" r="1.2" fill="#e0393e"/>
<line x1="480.60" y1="349.92" x2="480.60" y2="353.67" stroke="#e0393e" stroke-width="0.6" />
<line x1="479.70" y1="349.92" x2="481.50" y2="349.92" stroke="#e0393e" stroke-width="0.6" />
<line x1="479.70" y1="353.67" x2="481.50" y2="353.67" stroke="#e0393e" stroke-width="0.6" />
<circle cx="480.60" cy="351.80" r="1.2" fill="#e0393e"/>
<line x1="500.60" y1="344.68" x2="500.60" y2="346.93" stroke="#e0393e" stroke-width="0.6" />
<line x1="499.70" y1="344.68" x2="501.50" y2="344.68" stroke="#e0393e" stroke-width="0.6" />
<line x1="499.70" y1="346.93" x2="501.50" y2="346.93" stroke="#e0393e" stroke-width="0.6" />
<circle cx="500.60" cy="345.80" r="1.2" fill="#e0393e"/>
<line x1="520.60" y1="335.87" x2="520.60" y2="339.62" stroke="#e0393e" stroke-width="0.6" />
<line x1="519.70" y1="335.87" x2="521.50" y2="335.87" stroke="#e0393e" stroke-width="0.6" />
<line x1="519.70" y1="339.62" x2="521.50" y2="339.62" stroke="#e0393e" stroke-width="0.6" />
<circle cx="520.60" cy="337.75" r="1.2" fill="#e0393e"/>
<line x1="540.60" y1="335.12" x2="540.60" y2="338.12" stroke="#e0393e" stroke-width="0.6" />
<line x1="539.70" y1="335.12" x2="541.50" y2="335.12" stroke="#e0393e" stroke-width="0.6" />
<line x1="539.70" y1="338.12" x2="541.50" y2="338.12" stroke="#e0393e" stroke-width="0.6" />
<circle cx="540.60" cy="336.62" r="1.2" fill="#e0393e"/>
<polyline points="440.60,365.10 460.60,350.11 480.60,343.37 500.60,327.63 520.60,303.65 540.60,316.76" fill="none" stroke="#4472c4" stroke-width="0.8" stroke-linejoin="round" />
<line x1="440.60" y1="363.97" x2="440.60" y2="366.22" stroke="#4472c4" stroke-width="0.6" />
<line x1="439.70" y1="363.97" x2="441.50" y2="363.97" stroke="#4472c4" stroke-width="0.6" />
<line x1="439.70" y1="366.22" x2="441.50" y2="366.22" stroke="#4472c4" stroke-width="0.6" />
<path d="M440.60,363.50 L442.00,365.90 L439.20,365.90 Z" fill="#4472c4"/>
<line x1="460.60" y1="347.11" x2="460.60" y2="353.11" stroke="#4472c4" stroke-width="0.6" />
<line x1="459.70" y1="347.11" x2="461.50" y2="347.11" stroke="#4472c4" stroke-width="0.6" />
<line x1="459.70" y1="353.11" x2="461.50" y2="353.11" stroke="#4472c4" stroke-width="0.6" />
<path d="M460.60,348.51 L462.00,350.91 L459.20,350.91 Z" fill="#4472c4"/>
<line x1="480.60" y1="341.12" x2="480.60" y2="345.61" stroke="#4472c4" stroke-width="0.6" />
<line x1="479.70" y1="341.12" x2="481.50" y2="341.12" stroke="#4472c4" stroke-width="0.6" />
<line x1="479.70" y1="345.61" x2="481.50" y2="345.61" stroke="#4472c4" stroke-width="0.6" />
<path d="M480.60,341.77 L482.00,344.17 L479.20,344.17 Z" fill="#4472c4"/>
<line x1="500.60" y1="326.13" x2="500.60" y2="329.13" stroke="#4472c4" stroke-width="0.6" />
<line x1="499.70" y1="326.13" x2="501.50" y2="326.13" stroke="#4472c4" stroke-width="0.6" />
<line x1="499.70" y1="329.13" x2="501.50" y2="329.13" stroke="#4472c4" stroke-width="0.6" />
<path d="M500.60,326.03 L502.00,328.43 L499.20,328.43 Z" fill="#4472c4"/>
<line x1="520.60" y1="300.84" x2="520.60" y2="306.46" stroke="#4472c4" stroke-width="0.6" />
<line x1="519.70" y1="300.84" x2="521.50" y2="300.84" stroke="#4472c4" stroke-width="0.6" />
<line x1="519.70" y1="306.46" x2="521.50" y2="306.46" stroke="#4472c4" stroke-width="0.6" />
<path d="M520.60,302.05 L522.00,304.45 L519.20,304.45 Z" fill="#4472c4"/>
<line x1="540.60" y1="314.89" x2="540.60" y2="318.64" stroke="#4472c4" stroke-width="0.6" />
<line x1="539.70" y1="314.89" x2="541.50" y2="314.89" stroke="#4472c4" stroke-width="0.6" />
<line x1="539.70" y1="318.64" x2="541.50" y2="318.64" stroke="#4472c4" stroke-width="0.6" />
<path d="M540.60,315.16 L542.00,317.56 L539.20,317.56 Z" fill="#4472c4"/>
<polyline points="440.60,370.15 460.60,365.10 480.60,363.97 500.60,361.54 520.60,361.35 540.60,362.47" fill="none" stroke="#5cbd6a" stroke-width="0.8" stroke-linejoin="round" />
<line x1="440.60" y1="369.41" x2="440.60" y2="370.90" stroke="#5cbd6a" stroke-width="0.6" />
<line x1="439.70" y1="369.41" x2="441.50" y2="369.41" stroke="#5cbd6a" stroke-width="0.6" />
<line x1="439.70" y1="370.90" x2="441.50" y2="370.90" stroke="#5cbd6a" stroke-width="0.6" />
<path d="M440.60,371.75 L442.00,369.35 L439.20,369.35 Z" fill="#5cbd6a"/>
<line x1="460.60" y1="364.53" x2="460.60" y2="365.66" stroke="#5cbd6a" stroke-width="0.6" />
<line x1="459.70" y1="364.53" x2="461.50" y2="364.53" stroke="#5cbd6a" stroke-width="0.6" />
<line x1="459.70" y1="365.66" x2="461.50" y2="365.66" stroke="#5cbd6a" stroke-width="0.6" />
<path d="M460.60,366.70 L462.00,364.30 L459.20,364.30 Z" fill="#5cbd6a"/>
<line x1="480.60" y1="363.41" x2="480.60" y2="364.53" stroke="#5cbd6a" stroke-width="0.6" />
<line x1="479.70" y1="363.41" x2="481.50" y2="363.41" stroke="#5cbd6a" stroke-width="0.6" />
<line x1="479.70" y1="364.53" x2="481.50" y2="364.53" stroke="#5cbd6a" stroke-width="0.6" />
<path d="M480.60,365.57 L482.00,363.17 L479.20,363.17 Z" fill="#5cbd6a"/>
<line x1="500.60" y1="360.60" x2="500.60" y2="362.47" stroke="#5cbd6a" stroke-width="0.6" />
<line x1="499.70" y1="360.60" x2="501.50" y2="360.60" stroke="#5cbd6a" stroke-width="0.6" />
<line x1="499.70" y1="362.47" x2="501.50" y2="362.47" stroke="#5cbd6a" stroke-width="0.6" />
<path d="M500.60,363.14 L502.00,360.74 L499.20,360.74 Z" fill="#5cbd6a"/>
<line x1="520.60" y1="359.85" x2="520.60" y2="362.85" stroke="#5cbd6a" stroke-width="0.6" />
<line x1="519.70" y1="359.85" x2="521.50" y2="359.85" stroke="#5cbd6a" stroke-width="0.6" />
<line x1="519.70" y1="362.85" x2="521.50" y2="362.85" stroke="#5cbd6a" stroke-width="0.6" />
<path d="M520.60,362.95 L522.00,360.55 L519.20,360.55 Z" fill="#5cbd6a"/>
<line x1="540.60" y1="360.60" x2="540.60" y2="364.35" stroke="#5cbd6a" stroke-width="0.6" />
<line x1="539.70" y1="360.60" x2="541.50" y2="360.60" stroke="#5cbd6a" stroke-width="0.6" />
<line x1="539.70" y1="364.35" x2="541.50" y2="364.35" stroke="#5cbd6a" stroke-width="0.6" />
<path d="M540.60,364.07 L542.00,361.67 L539.20,361.67 Z" fill="#5cbd6a"/>
<line x1="430.60" y1="291.10" x2="550.60" y2="291.10" stroke="#a8a8a8" stroke-width="1.2" />
<line x1="550.60" y1="291.10" x2="550.60" y2="375.40" stroke="#a8a8a8" stroke-width="1.2" />
<line x1="430.60" y1="291.10" x2="430.60" y2="375.40" stroke="#000" stroke-width="0.8" />
<line x1="430.60" y1="375.40" x2="550.60" y2="375.40" stroke="#000" stroke-width="0.8" />
<line x1="430.60" y1="375.40" x2="432.10" y2="375.40" stroke="#000" stroke-width="0.6" />
<text x="428.40" y="377.00" font-size="4.6" text-anchor="end" font-family="Liberation Serif" font-weight="bold" fill="#000" style="stroke:none">0</text>
<line x1="430.60" y1="366.03" x2="432.10" y2="366.03" stroke="#000" stroke-width="0.6" />
<text x="428.40" y="367.63" font-size="4.6" text-anchor="end" font-family="Liberation Serif" font-weight="bold" fill="#000" style="stroke:none">5</text>
<line x1="430.60" y1="356.67" x2="432.10" y2="356.67" stroke="#000" stroke-width="0.6" />
<text x="428.40" y="358.27" font-size="4.6" text-anchor="end" font-family="Liberation Serif" font-weight="bold" fill="#000" style="stroke:none">10</text>
<line x1="430.60" y1="347.30" x2="432.10" y2="347.30" stroke="#000" stroke-width="0.6" />
<text x="428.40" y="348.90" font-size="4.6" text-anchor="end" font-family="Liberation Serif" font-weight="bold" fill="#000" style="stroke:none">15</text>
<line x1="430.60" y1="337.93" x2="432.10" y2="337.93" stroke="#000" stroke-width="0.6" />
<text x="428.40" y="339.53" font-size="4.6" text-anchor="end" font-family="Liberation Serif" font-weight="bold" fill="#000" style="stroke:none">20</text>
<line x1="430.60" y1="328.57" x2="432.10" y2="328.57" stroke="#000" stroke-width="0.6" />
<text x="428.40" y="330.17" font-size="4.6" text-anchor="end" font-family="Liberation Serif" font-weight="bold" fill="#000" style="stroke:none">25</text>
<line x1="430.60" y1="319.20" x2="432.10" y2="319.20" stroke="#000" stroke-width="0.6" />
<text x="428.40" y="320.80" font-size="4.6" text-anchor="end" font-family="Liberation Serif" font-weight="bold" fill="#000" style="stroke:none">30</text>
<line x1="430.60" y1="309.83" x2="432.10" y2="309.83" stroke="#000" stroke-width="0.6" />
<text x="428.40" y="311.43" font-size="4.6" text-anchor="end" font-family="Liberation Serif" font-weight="bold" fill="#000" style="stroke:none">35</text>
<line x1="430.60" y1="300.47" x2="432.10" y2="300.47" stroke="#000" stroke-width="0.6" />
<text x="428.40" y="302.07" font-size="4.6" text-anchor="end" font-family="Liberation Serif" font-weight="bold" fill="#000" style="stroke:none">40</text>
<line x1="430.60" y1="291.10" x2="432.10" y2="291.10" stroke="#000" stroke-width="0.6" />
<text x="428.40" y="292.70" font-size="4.6" text-anchor="end" font-family="Liberation Serif" font-weight="bold" fill="#000" style="stroke:none">45</text>
<line x1="430.60" y1="375.40" x2="430.60" y2="373.90" stroke="#000" stroke-width="0.6" />
<text x="430.60" y="380.80" font-size="4.6" text-anchor="middle" font-family="Liberation Serif" font-weight="bold" fill="#000" style="stroke:none">0</text>
<line x1="450.60" y1="375.40" x2="450.60" y2="373.90" stroke="#000" stroke-width="0.6" />
<text x="450.60" y="380.80" font-size="4.6" text-anchor="middle" font-family="Liberation Serif" font-weight="bold" fill="#000" style="stroke:none">20</text>
<line x1="470.60" y1="375.40" x2="470.60" y2="373.90" stroke="#000" stroke-width="0.6" />
<text x="470.60" y="380.80" font-size="4.6" text-anchor="middle" font-family="Liberation Serif" font-weight="bold" fill="#000" style="stroke:none">40</text>
<line x1="490.60" y1="375.40" x2="490.60" y2="373.90" stroke="#000" stroke-width="0.6" />
<text x="490.60" y="380.80" font-size="4.6" text-anchor="middle" font-family="Liberation Serif" font-weight="bold" fill="#000" style="stroke:none">60</text>
<line x1="510.60" y1="375.40" x2="510.60" y2="373.90" stroke="#000" stroke-width="0.6" />
<text x="510.60" y="380.80" font-size="4.6" text-anchor="middle" font-family="Liberation Serif" font-weight="bold" fill="#000" style="stroke:none">80</text>
<line x1="530.60" y1="375.40" x2="530.60" y2="373.90" stroke="#000" stroke-width="0.6" />
<text x="530.60" y="380.80" font-size="4.6" text-anchor="middle" font-family="Liberation Serif" font-weight="bold" fill="#000" style="stroke:none">100</text>
<line x1="550.60" y1="375.40" x2="550.60" y2="373.90" stroke="#000" stroke-width="0.6" />
<text x="550.60" y="380.80" font-size="4.6" text-anchor="middle" font-family="Liberation Serif" font-weight="bold" fill="#000" style="stroke:none">120</text>
<text x="494.00" y="387.60" font-size="6.2" text-anchor="middle" font-family="Liberation Serif" font-weight="bold" fill="#000" style="stroke:none">Time (s)</text>
<text x="0" y="0" font-size="5.6" text-anchor="middle" font-family="Liberation Serif" font-weight="bold" style="stroke:none" transform="translate(419.6 333) rotate(-90)">Current (μA)</text>
<line x1="437.30" y1="298.60" x2="448.70" y2="298.60" stroke="#444444" stroke-width="0.8" />
<rect x="442.00" y="297.60" width="2.00" height="2.00" fill="#444444" stroke="none" stroke-width="0"/>
<text x="450.00" y="300.40" font-size="5.3" text-anchor="start" font-family="Liberation Serif" font-weight="bold" fill="#000" style="stroke:none">Cd</text>
<line x1="437.30" y1="304.15" x2="448.70" y2="304.15" stroke="#e0393e" stroke-width="0.8" />
<circle cx="443.00" cy="304.15" r="1.2" fill="#e0393e"/>
<text x="450.00" y="305.95" font-size="5.3" text-anchor="start" font-family="Liberation Serif" font-weight="bold" fill="#000" style="stroke:none">Pb</text>
<line x1="437.30" y1="309.70" x2="448.70" y2="309.70" stroke="#4472c4" stroke-width="0.8" />
<path d="M443.00,308.10 L444.40,310.50 L441.60,310.50 Z" fill="#4472c4"/>
<text x="450.00" y="311.50" font-size="5.3" text-anchor="start" font-family="Liberation Serif" font-weight="bold" fill="#000" style="stroke:none">Hg</text>
<line x1="437.30" y1="315.25" x2="448.70" y2="315.25" stroke="#5cbd6a" stroke-width="0.8" />
<path d="M443.00,316.85 L444.40,314.45 L441.60,314.45 Z" fill="#5cbd6a"/>
<text x="450.00" y="317.05" font-size="5.3" text-anchor="start" font-family="Liberation Serif" font-weight="bold" fill="#000" style="stroke:none">Zn</text>
</svg></body></html>
